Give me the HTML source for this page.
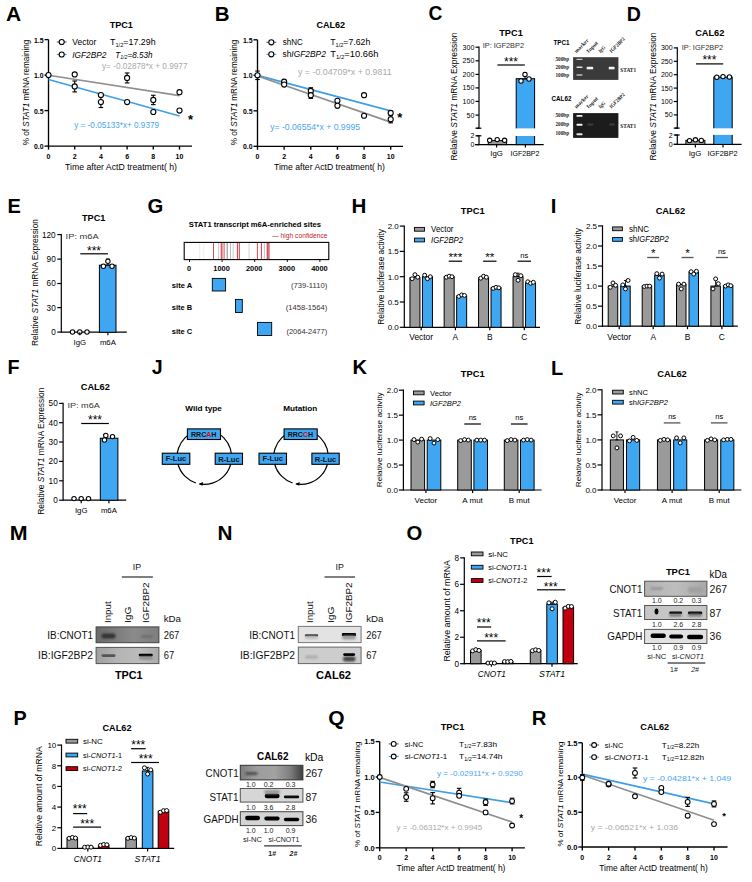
<!DOCTYPE html>
<html><head><meta charset="utf-8"><style>
html,body{margin:0;padding:0;background:#fff;width:752px;height:882px;overflow:hidden}
svg{display:block;font-family:"Liberation Sans",sans-serif}
</style></head><body>
<svg width="752" height="882" viewBox="0 0 752 882" font-family="Liberation Sans, sans-serif"><defs><marker id="ah" viewBox="0 0 10 10" refX="2" refY="5" markerWidth="5" markerHeight="5" orient="auto"><path d="M0,0 L10,5 L0,10 z" fill="#000"/></marker><filter id="bl1" x="-50%" y="-50%" width="200%" height="200%"><feGaussianBlur stdDeviation="0.7"/></filter><filter id="bl2" x="-50%" y="-50%" width="200%" height="200%"><feGaussianBlur stdDeviation="1.2"/></filter><filter id="bl3" x="-50%" y="-50%" width="200%" height="200%"><feGaussianBlur stdDeviation="0.45"/></filter><linearGradient id="g4" x1="0" y1="0" x2="1" y2="0"><stop offset="0" stop-color="#6a6a6a"/><stop offset="0.3" stop-color="#7c7c7c"/><stop offset="0.6" stop-color="#8a8a8a"/><stop offset="1" stop-color="#7e7e7e"/></linearGradient><linearGradient id="g5" x1="0" y1="0" x2="1" y2="0"><stop offset="0" stop-color="#a0a0a0"/><stop offset="0.35" stop-color="#b4b4b4"/><stop offset="0.7" stop-color="#bcbcbc"/><stop offset="1" stop-color="#aaaaaa"/></linearGradient><linearGradient id="g6" x1="0" y1="0" x2="1" y2="0"><stop offset="0" stop-color="#b4b4b4"/><stop offset="0.5" stop-color="#bdbdbd"/><stop offset="1" stop-color="#a8a8a8"/></linearGradient><linearGradient id="g7" x1="0" y1="0" x2="1" y2="0"><stop offset="0" stop-color="#7e7e7e"/><stop offset="0.25" stop-color="#9c9c9c"/><stop offset="0.55" stop-color="#a2a2a2"/><stop offset="0.8" stop-color="#7e7e7e"/><stop offset="1" stop-color="#3e3e3e"/></linearGradient><filter id="glow" x="-50%" y="-50%" width="200%" height="200%"><feGaussianBlur stdDeviation="0.55"/></filter></defs><rect width="752" height="882" fill="#fff"/><text transform="translate(6.07 20.54) scale(1.002 1)" font-size="21" font-weight="bold">A</text>
<text x="121.3" y="27.83" font-size="9.8" text-anchor="middle" font-weight="bold" textLength="23.3" lengthAdjust="spacingAndGlyphs">TPC1</text>
<line x1="48.5" y1="39.6" x2="48.5" y2="146.6" stroke="#000" stroke-width="1.35"/>
<line x1="48" y1="146.1" x2="192" y2="146.1" stroke="#000" stroke-width="1.35"/>
<line x1="44.5" y1="146.1" x2="48.5" y2="146.1" stroke="#000" stroke-width="1.35"/>
<text x="43.6" y="149" font-size="7.5" text-anchor="end" font-weight="bold" textLength="9.6" lengthAdjust="spacingAndGlyphs">0.0</text>
<line x1="44.5" y1="110.6" x2="48.5" y2="110.6" stroke="#000" stroke-width="1.35"/>
<text x="43.6" y="113.5" font-size="7.5" text-anchor="end" font-weight="bold" textLength="9.6" lengthAdjust="spacingAndGlyphs">0.5</text>
<line x1="44.5" y1="75.1" x2="48.5" y2="75.1" stroke="#000" stroke-width="1.35"/>
<text x="43.6" y="78" font-size="7.5" text-anchor="end" font-weight="bold" textLength="9.6" lengthAdjust="spacingAndGlyphs">1.0</text>
<line x1="44.5" y1="39.6" x2="48.5" y2="39.6" stroke="#000" stroke-width="1.35"/>
<text x="43.6" y="42.5" font-size="7.5" text-anchor="end" font-weight="bold" textLength="9.6" lengthAdjust="spacingAndGlyphs">1.5</text>
<line x1="48.5" y1="146.1" x2="48.5" y2="149.6" stroke="#000" stroke-width="1.35"/>
<text x="48.5" y="158.72" font-size="7" text-anchor="middle" font-weight="bold">0</text>
<line x1="74.7" y1="146.1" x2="74.7" y2="149.6" stroke="#000" stroke-width="1.35"/>
<text x="74.7" y="158.72" font-size="7" text-anchor="middle" font-weight="bold">2</text>
<line x1="100.9" y1="146.1" x2="100.9" y2="149.6" stroke="#000" stroke-width="1.35"/>
<text x="100.9" y="158.72" font-size="7" text-anchor="middle" font-weight="bold">4</text>
<line x1="127.1" y1="146.1" x2="127.1" y2="149.6" stroke="#000" stroke-width="1.35"/>
<text x="127.1" y="158.72" font-size="7" text-anchor="middle" font-weight="bold">6</text>
<line x1="153.3" y1="146.1" x2="153.3" y2="149.6" stroke="#000" stroke-width="1.35"/>
<text x="153.3" y="158.72" font-size="7" text-anchor="middle" font-weight="bold">8</text>
<line x1="179.5" y1="146.1" x2="179.5" y2="149.6" stroke="#000" stroke-width="1.35"/>
<text x="179.5" y="158.72" font-size="7" text-anchor="middle" font-weight="bold">10</text>
<line x1="48.5" y1="75.26" x2="179.5" y2="95.7" stroke="#8f8f8f" stroke-width="1.7"/>
<line x1="48.5" y1="79.51" x2="179.5" y2="115.95" stroke="#3f9fe6" stroke-width="1.7"/>
<line x1="74.7" y1="80.99" x2="74.7" y2="91.93" stroke="#000" stroke-width="1.1"/>
<line x1="72.4" y1="80.99" x2="77" y2="80.99" stroke="#000" stroke-width="1.1"/>
<line x1="72.4" y1="91.93" x2="77" y2="91.93" stroke="#000" stroke-width="1.1"/>
<line x1="100.9" y1="96.61" x2="100.9" y2="107.55" stroke="#000" stroke-width="1.1"/>
<line x1="98.6" y1="96.61" x2="103.2" y2="96.61" stroke="#000" stroke-width="1.1"/>
<line x1="98.6" y1="107.55" x2="103.2" y2="107.55" stroke="#000" stroke-width="1.1"/>
<line x1="127.1" y1="72.97" x2="127.1" y2="82.91" stroke="#000" stroke-width="1.1"/>
<line x1="124.8" y1="72.97" x2="129.4" y2="72.97" stroke="#000" stroke-width="1.1"/>
<line x1="124.8" y1="82.91" x2="129.4" y2="82.91" stroke="#000" stroke-width="1.1"/>
<line x1="153.3" y1="95.26" x2="153.3" y2="104.64" stroke="#000" stroke-width="1.1"/>
<line x1="151" y1="95.26" x2="155.6" y2="95.26" stroke="#000" stroke-width="1.1"/>
<line x1="151" y1="104.64" x2="155.6" y2="104.64" stroke="#000" stroke-width="1.1"/>
<circle cx="48.5" cy="75.1" r="2.55" fill="#fff" stroke="#000" stroke-width="1.1"/>
<circle cx="74.7" cy="74.39" r="2.55" fill="#fff" stroke="#000" stroke-width="1.1"/>
<circle cx="74.7" cy="86.46" r="2.55" fill="#fff" stroke="#000" stroke-width="1.1"/>
<circle cx="100.9" cy="94.98" r="2.55" fill="#fff" stroke="#000" stroke-width="1.1"/>
<circle cx="100.9" cy="102.08" r="2.55" fill="#fff" stroke="#000" stroke-width="1.1"/>
<circle cx="127.1" cy="77.94" r="2.55" fill="#fff" stroke="#000" stroke-width="1.1"/>
<circle cx="127.1" cy="102.08" r="2.55" fill="#fff" stroke="#000" stroke-width="1.1"/>
<circle cx="153.3" cy="99.95" r="2.55" fill="#fff" stroke="#000" stroke-width="1.1"/>
<circle cx="153.3" cy="112.02" r="2.55" fill="#fff" stroke="#000" stroke-width="1.1"/>
<circle cx="179.5" cy="92.14" r="2.55" fill="#fff" stroke="#000" stroke-width="1.1"/>
<circle cx="179.5" cy="110.6" r="2.55" fill="#fff" stroke="#000" stroke-width="1.1"/>
<line x1="56.7" y1="42" x2="66.7" y2="42" stroke="#666" stroke-width="1.1"/>
<circle cx="61.7" cy="42" r="2.55" fill="#fff" stroke="#000" stroke-width="1.1"/>
<line x1="56.7" y1="54.5" x2="66.7" y2="54.5" stroke="#3f9fe6" stroke-width="1.1"/>
<circle cx="61.7" cy="54.5" r="2.55" fill="#fff" stroke="#000" stroke-width="1.1"/>
<text x="72.3" y="45.06" font-size="8.5" textLength="24" lengthAdjust="spacingAndGlyphs">Vector</text>
<text x="110" y="45.06" font-size="8.5" textLength="45.6" lengthAdjust="spacingAndGlyphs">T<tspan font-size="5.5" dy="1.5">1/2</tspan><tspan dy="-1.5">=17.29h</tspan></text>
<text x="72.3" y="57.56" font-size="8.5" font-style="italic" textLength="34.1" lengthAdjust="spacingAndGlyphs">IGF2BP2</text>
<text x="115.2" y="57.56" font-size="8.5" font-style="italic" textLength="37.2" lengthAdjust="spacingAndGlyphs">T<tspan font-size="5.5" dy="1.5">1/2</tspan><tspan dy="-1.5">=8.53h</tspan></text>
<text x="102" y="69.45" font-size="8.2" fill="#a9a9a9" textLength="85.5" lengthAdjust="spacingAndGlyphs">y= -0.02878*x + 0.9977</text>
<text x="74.3" y="127.76" font-size="8.5" fill="#4aa6ec" textLength="84.7" lengthAdjust="spacingAndGlyphs">y = -0.05133*x+ 0.9379</text>
<text x="190.5" y="124.18" font-size="13" text-anchor="middle" font-weight="bold">*</text>
<text x="121" y="170.13" font-size="8.7" text-anchor="middle" textLength="112" lengthAdjust="spacingAndGlyphs">Time after ActD treatment( h)</text>
<text x="25.6" y="95.42" font-size="8.4" text-anchor="middle" textLength="105.5" lengthAdjust="spacingAndGlyphs" transform="rotate(-90 25.6 92.4)">% of <tspan font-style="italic">STAT1</tspan> mRNA remaining</text>
<text transform="translate(214.82 20.54) scale(0.976 1)" font-size="21" font-weight="bold">B</text>
<text x="330.8" y="27.93" font-size="9.8" text-anchor="middle" font-weight="bold" textLength="28.7" lengthAdjust="spacingAndGlyphs">CAL62</text>
<line x1="257.5" y1="39.8" x2="257.5" y2="146.8" stroke="#000" stroke-width="1.35"/>
<line x1="257" y1="146.3" x2="403" y2="146.3" stroke="#000" stroke-width="1.35"/>
<line x1="253.5" y1="146.3" x2="257.5" y2="146.3" stroke="#000" stroke-width="1.35"/>
<text x="252.6" y="149.2" font-size="7.5" text-anchor="end" font-weight="bold" textLength="9.6" lengthAdjust="spacingAndGlyphs">0.0</text>
<line x1="253.5" y1="110.8" x2="257.5" y2="110.8" stroke="#000" stroke-width="1.35"/>
<text x="252.6" y="113.7" font-size="7.5" text-anchor="end" font-weight="bold" textLength="9.6" lengthAdjust="spacingAndGlyphs">0.5</text>
<line x1="253.5" y1="75.3" x2="257.5" y2="75.3" stroke="#000" stroke-width="1.35"/>
<text x="252.6" y="78.2" font-size="7.5" text-anchor="end" font-weight="bold" textLength="9.6" lengthAdjust="spacingAndGlyphs">1.0</text>
<line x1="253.5" y1="39.8" x2="257.5" y2="39.8" stroke="#000" stroke-width="1.35"/>
<text x="252.6" y="42.7" font-size="7.5" text-anchor="end" font-weight="bold" textLength="9.6" lengthAdjust="spacingAndGlyphs">1.5</text>
<line x1="257.5" y1="146.3" x2="257.5" y2="149.8" stroke="#000" stroke-width="1.35"/>
<text x="257.5" y="158.72" font-size="7" text-anchor="middle" font-weight="bold">0</text>
<line x1="284.14" y1="146.3" x2="284.14" y2="149.8" stroke="#000" stroke-width="1.35"/>
<text x="284.14" y="158.72" font-size="7" text-anchor="middle" font-weight="bold">2</text>
<line x1="310.78" y1="146.3" x2="310.78" y2="149.8" stroke="#000" stroke-width="1.35"/>
<text x="310.78" y="158.72" font-size="7" text-anchor="middle" font-weight="bold">4</text>
<line x1="337.42" y1="146.3" x2="337.42" y2="149.8" stroke="#000" stroke-width="1.35"/>
<text x="337.42" y="158.72" font-size="7" text-anchor="middle" font-weight="bold">6</text>
<line x1="364.06" y1="146.3" x2="364.06" y2="149.8" stroke="#000" stroke-width="1.35"/>
<text x="364.06" y="158.72" font-size="7" text-anchor="middle" font-weight="bold">8</text>
<line x1="390.7" y1="146.3" x2="390.7" y2="149.8" stroke="#000" stroke-width="1.35"/>
<text x="390.7" y="158.72" font-size="7" text-anchor="middle" font-weight="bold">10</text>
<line x1="257.5" y1="75.34" x2="390.7" y2="110.86" stroke="#3f9fe6" stroke-width="1.7"/>
<line x1="257.5" y1="76.01" x2="390.7" y2="122.16" stroke="#8f8f8f" stroke-width="1.7"/>
<line x1="257.5" y1="71.04" x2="257.5" y2="79.56" stroke="#000" stroke-width="1.1"/>
<line x1="255.2" y1="71.04" x2="259.8" y2="71.04" stroke="#000" stroke-width="1.1"/>
<line x1="255.2" y1="79.56" x2="259.8" y2="79.56" stroke="#000" stroke-width="1.1"/>
<line x1="310.78" y1="87.73" x2="310.78" y2="94.12" stroke="#000" stroke-width="1.1"/>
<line x1="308.48" y1="87.73" x2="313.08" y2="87.73" stroke="#000" stroke-width="1.1"/>
<line x1="308.48" y1="94.12" x2="313.08" y2="94.12" stroke="#000" stroke-width="1.1"/>
<line x1="310.78" y1="91.99" x2="310.78" y2="98.38" stroke="#000" stroke-width="1.1"/>
<line x1="308.48" y1="91.99" x2="313.08" y2="91.99" stroke="#000" stroke-width="1.1"/>
<line x1="308.48" y1="98.38" x2="313.08" y2="98.38" stroke="#000" stroke-width="1.1"/>
<line x1="390.7" y1="115.77" x2="390.7" y2="122.87" stroke="#000" stroke-width="1.1"/>
<line x1="388.4" y1="115.77" x2="393" y2="115.77" stroke="#000" stroke-width="1.1"/>
<line x1="388.4" y1="122.87" x2="393" y2="122.87" stroke="#000" stroke-width="1.1"/>
<circle cx="257.5" cy="75.3" r="2.55" fill="#fff" stroke="#000" stroke-width="1.1"/>
<circle cx="284.14" cy="81.69" r="2.55" fill="#fff" stroke="#000" stroke-width="1.1"/>
<circle cx="284.14" cy="84.53" r="2.55" fill="#fff" stroke="#000" stroke-width="1.1"/>
<circle cx="310.78" cy="90.92" r="2.55" fill="#fff" stroke="#000" stroke-width="1.1"/>
<circle cx="310.78" cy="95.18" r="2.55" fill="#fff" stroke="#000" stroke-width="1.1"/>
<circle cx="337.42" cy="100.86" r="2.55" fill="#fff" stroke="#000" stroke-width="1.1"/>
<circle cx="337.42" cy="105.83" r="2.55" fill="#fff" stroke="#000" stroke-width="1.1"/>
<circle cx="364.06" cy="95.18" r="2.55" fill="#fff" stroke="#000" stroke-width="1.1"/>
<circle cx="364.06" cy="115.77" r="2.55" fill="#fff" stroke="#000" stroke-width="1.1"/>
<circle cx="390.7" cy="112.93" r="2.55" fill="#fff" stroke="#000" stroke-width="1.1"/>
<circle cx="390.7" cy="119.32" r="2.55" fill="#fff" stroke="#000" stroke-width="1.1"/>
<line x1="266.3" y1="42.3" x2="276.3" y2="42.3" stroke="#666" stroke-width="1.1"/>
<circle cx="271.3" cy="42.3" r="2.55" fill="#fff" stroke="#000" stroke-width="1.1"/>
<line x1="266.3" y1="54.3" x2="276.3" y2="54.3" stroke="#3f9fe6" stroke-width="1.1"/>
<circle cx="271.3" cy="54.3" r="2.55" fill="#fff" stroke="#000" stroke-width="1.1"/>
<text x="282.7" y="45.36" font-size="8.5" textLength="20" lengthAdjust="spacingAndGlyphs">shNC</text>
<text x="330.2" y="45.36" font-size="8.5" textLength="40.1" lengthAdjust="spacingAndGlyphs">T<tspan font-size="5.5" dy="1.5">1/2</tspan><tspan dy="-1.5">=7.62h</tspan></text>
<text x="282.5" y="57.36" font-size="8.5" textLength="43.3" lengthAdjust="spacingAndGlyphs">sh<tspan font-style="italic">IGF2BP2</tspan></text>
<text x="330.2" y="57.36" font-size="8.5" textLength="48.3" lengthAdjust="spacingAndGlyphs">T<tspan font-size="5.5" dy="1.5">1/2</tspan><tspan dy="-1.5">=10.66h</tspan></text>
<text x="298" y="74.76" font-size="8.5" fill="#a9a9a9" textLength="93.6" lengthAdjust="spacingAndGlyphs">y = -0.04709*x + 0.9811</text>
<text x="270.2" y="129.86" font-size="8.5" fill="#4aa6ec" textLength="89.9" lengthAdjust="spacingAndGlyphs">y= -0.06554*x + 0.9995</text>
<text x="399.8" y="122.18" font-size="13" text-anchor="middle" font-weight="bold">*</text>
<text x="329.5" y="170.33" font-size="8.7" text-anchor="middle" textLength="111" lengthAdjust="spacingAndGlyphs">Time after ActD treatment( h)</text>
<text x="234.3" y="95.42" font-size="8.4" text-anchor="middle" textLength="105.5" lengthAdjust="spacingAndGlyphs" transform="rotate(-90 234.3 92.4)">% of <tspan font-style="italic">STAT1</tspan> mRNA remaining</text>
<text transform="translate(428.53 20.35) scale(0.916 1)" font-size="21" font-weight="bold">C</text>
<text x="511" y="35.63" font-size="9.8" text-anchor="middle" font-weight="bold" textLength="23.6" lengthAdjust="spacingAndGlyphs">TPC1</text>
<text x="482.7" y="48.13" font-size="7.3" fill="#333" textLength="41.3" lengthAdjust="spacingAndGlyphs">IP: IGF2BP2</text>
<line x1="479" y1="46.6" x2="479" y2="128.8" stroke="#000" stroke-width="1.2"/>
<line x1="475.5" y1="47.2" x2="479" y2="47.2" stroke="#000" stroke-width="1.2"/>
<text x="474.3" y="49.72" font-size="7" text-anchor="end">300</text>
<line x1="475.5" y1="60.8" x2="479" y2="60.8" stroke="#000" stroke-width="1.2"/>
<text x="474.3" y="63.32" font-size="7" text-anchor="end">250</text>
<line x1="475.5" y1="74.4" x2="479" y2="74.4" stroke="#000" stroke-width="1.2"/>
<text x="474.3" y="76.92" font-size="7" text-anchor="end">200</text>
<line x1="475.5" y1="87.9" x2="479" y2="87.9" stroke="#000" stroke-width="1.2"/>
<text x="474.3" y="90.42" font-size="7" text-anchor="end">150</text>
<line x1="475.5" y1="101.4" x2="479" y2="101.4" stroke="#000" stroke-width="1.2"/>
<text x="474.3" y="103.92" font-size="7" text-anchor="end">100</text>
<line x1="475.5" y1="115.1" x2="479" y2="115.1" stroke="#000" stroke-width="1.2"/>
<text x="474.3" y="117.62" font-size="7" text-anchor="end">50</text>
<line x1="475.5" y1="128.2" x2="479" y2="128.2" stroke="#000" stroke-width="1.2"/>
<line x1="479" y1="135.2" x2="479" y2="145.2" stroke="#000" stroke-width="1.2"/>
<line x1="475.5" y1="135.8" x2="479" y2="135.8" stroke="#000" stroke-width="1.2"/>
<text x="474.3" y="138.32" font-size="7" text-anchor="end">2</text>
<line x1="475.5" y1="144.6" x2="479" y2="144.6" stroke="#000" stroke-width="1.2"/>
<text x="474.3" y="147.12" font-size="7" text-anchor="end">0</text>
<line x1="476.6" y1="128.2" x2="481.4" y2="128.2" stroke="#000" stroke-width="1.2"/>
<line x1="476.6" y1="135.8" x2="481.4" y2="135.8" stroke="#000" stroke-width="1.2"/>
<line x1="475" y1="144.6" x2="543.7" y2="144.6" stroke="#000" stroke-width="1.2"/>
<rect x="488.3" y="140.6" width="18.3" height="4" fill="#9a9a9a" stroke="#000" stroke-width="1"/>
<rect x="516.2" y="78.7" width="18.4" height="65.9" fill="#3fa6f2" stroke="#000" stroke-width="1"/>
<rect x="514" y="128.4" width="23" height="7.6" fill="#fff"/>
<circle cx="489.7" cy="140.3" r="2.2" fill="#fff" stroke="#000" stroke-width="1.05"/>
<circle cx="497.2" cy="139.6" r="2.2" fill="#fff" stroke="#000" stroke-width="1.05"/>
<circle cx="504.6" cy="140.3" r="2.2" fill="#fff" stroke="#000" stroke-width="1.05"/>
<line x1="525" y1="72.5" x2="525" y2="79" stroke="#000" stroke-width="1"/>
<line x1="523.25" y1="72.5" x2="526.75" y2="72.5" stroke="#000" stroke-width="1"/>
<line x1="523.25" y1="79" x2="526.75" y2="79" stroke="#000" stroke-width="1"/>
<circle cx="521" cy="81" r="2.2" fill="#fff" stroke="#000" stroke-width="1.05"/>
<circle cx="525" cy="74.4" r="2.2" fill="#fff" stroke="#000" stroke-width="1.05"/>
<circle cx="529" cy="79" r="2.2" fill="#fff" stroke="#000" stroke-width="1.05"/>
<line x1="496.6" y1="144.6" x2="496.6" y2="147.6" stroke="#000" stroke-width="1.2"/>
<line x1="525.4" y1="144.6" x2="525.4" y2="147.6" stroke="#000" stroke-width="1.2"/>
<line x1="497.4" y1="65" x2="524.8" y2="65" stroke="#000" stroke-width="1.2"/>
<text x="511" y="65.61" font-size="12" text-anchor="middle">***</text>
<text x="496.6" y="155.81" font-size="7.8" text-anchor="middle">IgG</text>
<text x="525" y="155.81" font-size="7.8" text-anchor="middle" textLength="29" lengthAdjust="spacingAndGlyphs">IGF2BP2</text>
<text x="454.3" y="99.52" font-size="8.4" text-anchor="middle" textLength="128" lengthAdjust="spacingAndGlyphs" transform="rotate(-90 454.3 96.5)">Relative  <tspan font-style="italic">STAT1</tspan> mRNA Expression</text>
<text transform="translate(626.68 20.54) scale(0.933 1)" font-size="21" font-weight="bold">D</text>
<text x="709.8" y="35.63" font-size="9.8" text-anchor="middle" font-weight="bold" textLength="29.2" lengthAdjust="spacingAndGlyphs">CAL62</text>
<text x="681.8" y="49.63" font-size="7.3" fill="#333" textLength="41.4" lengthAdjust="spacingAndGlyphs">IP: IGF2BP2</text>
<line x1="677.3" y1="47.3" x2="677.3" y2="128.7" stroke="#000" stroke-width="1.2"/>
<line x1="673.8" y1="47.9" x2="677.3" y2="47.9" stroke="#000" stroke-width="1.2"/>
<text x="672.6" y="50.42" font-size="7" text-anchor="end">300</text>
<line x1="673.8" y1="61.3" x2="677.3" y2="61.3" stroke="#000" stroke-width="1.2"/>
<text x="672.6" y="63.82" font-size="7" text-anchor="end">250</text>
<line x1="673.8" y1="74.7" x2="677.3" y2="74.7" stroke="#000" stroke-width="1.2"/>
<text x="672.6" y="77.22" font-size="7" text-anchor="end">200</text>
<line x1="673.8" y1="88.1" x2="677.3" y2="88.1" stroke="#000" stroke-width="1.2"/>
<text x="672.6" y="90.62" font-size="7" text-anchor="end">150</text>
<line x1="673.8" y1="101.5" x2="677.3" y2="101.5" stroke="#000" stroke-width="1.2"/>
<text x="672.6" y="104.02" font-size="7" text-anchor="end">100</text>
<line x1="673.8" y1="114.9" x2="677.3" y2="114.9" stroke="#000" stroke-width="1.2"/>
<text x="672.6" y="117.42" font-size="7" text-anchor="end">50</text>
<line x1="673.8" y1="128.1" x2="677.3" y2="128.1" stroke="#000" stroke-width="1.2"/>
<line x1="677.3" y1="134.4" x2="677.3" y2="145" stroke="#000" stroke-width="1.2"/>
<line x1="673.8" y1="135" x2="677.3" y2="135" stroke="#000" stroke-width="1.2"/>
<text x="672.6" y="137.52" font-size="7" text-anchor="end">2</text>
<line x1="673.8" y1="144.4" x2="677.3" y2="144.4" stroke="#000" stroke-width="1.2"/>
<text x="672.6" y="146.92" font-size="7" text-anchor="end">0</text>
<line x1="674.9" y1="128.1" x2="679.7" y2="128.1" stroke="#000" stroke-width="1.2"/>
<line x1="674.9" y1="135" x2="679.7" y2="135" stroke="#000" stroke-width="1.2"/>
<line x1="673.7" y1="144.4" x2="741.6" y2="144.4" stroke="#000" stroke-width="1.2"/>
<rect x="685.9" y="140.4" width="19" height="4" fill="#9a9a9a" stroke="#000" stroke-width="1"/>
<rect x="713.8" y="77.1" width="18.4" height="67.3" fill="#3fa6f2" stroke="#000" stroke-width="1"/>
<rect x="711.5" y="128.3" width="23" height="6.6" fill="#fff"/>
<circle cx="689.5" cy="140.6" r="2.2" fill="#fff" stroke="#000" stroke-width="1.05"/>
<circle cx="695.4" cy="139.8" r="2.2" fill="#fff" stroke="#000" stroke-width="1.05"/>
<circle cx="701.3" cy="140.4" r="2.2" fill="#fff" stroke="#000" stroke-width="1.05"/>
<circle cx="716.8" cy="77.2" r="2.2" fill="#fff" stroke="#000" stroke-width="1.05"/>
<circle cx="723" cy="76.6" r="2.2" fill="#fff" stroke="#000" stroke-width="1.05"/>
<circle cx="729.4" cy="77" r="2.2" fill="#fff" stroke="#000" stroke-width="1.05"/>
<line x1="695.4" y1="144.4" x2="695.4" y2="147.4" stroke="#000" stroke-width="1.2"/>
<line x1="723" y1="144.4" x2="723" y2="147.4" stroke="#000" stroke-width="1.2"/>
<line x1="696" y1="63.9" x2="723.2" y2="63.9" stroke="#000" stroke-width="1.2"/>
<text x="709.4" y="64.21" font-size="12" text-anchor="middle">***</text>
<text x="695" y="156.01" font-size="7.8" text-anchor="middle">IgG</text>
<text x="722.6" y="156.01" font-size="7.8" text-anchor="middle" textLength="30" lengthAdjust="spacingAndGlyphs">IGF2BP2</text>
<text x="653.3" y="99.52" font-size="8.4" text-anchor="middle" textLength="128" lengthAdjust="spacingAndGlyphs" transform="rotate(-90 653.3 96.5)">Relative  <tspan font-style="italic">STAT1</tspan> mRNA Expression</text>
<text transform="translate(7.55 212.74) scale(0.952 1)" font-size="21" font-weight="bold">E</text>
<text x="93.7" y="221.13" font-size="9.8" text-anchor="middle" font-weight="bold" textLength="23.3" lengthAdjust="spacingAndGlyphs">TPC1</text>
<text x="65.6" y="238.94" font-size="7.6" fill="#333" textLength="33.2" lengthAdjust="spacingAndGlyphs">IP:  m6A</text>
<line x1="61.3" y1="234" x2="61.3" y2="332.7" stroke="#000" stroke-width="1.2"/>
<line x1="57.3" y1="234.6" x2="61.3" y2="234.6" stroke="#000" stroke-width="1.2"/>
<text x="55.7" y="237.55" font-size="8.2" text-anchor="end">120</text>
<line x1="57.3" y1="259.1" x2="61.3" y2="259.1" stroke="#000" stroke-width="1.2"/>
<text x="55.7" y="262.05" font-size="8.2" text-anchor="end">90</text>
<line x1="57.3" y1="283.5" x2="61.3" y2="283.5" stroke="#000" stroke-width="1.2"/>
<text x="55.7" y="286.45" font-size="8.2" text-anchor="end">60</text>
<line x1="57.3" y1="307.6" x2="61.3" y2="307.6" stroke="#000" stroke-width="1.2"/>
<text x="55.7" y="310.55" font-size="8.2" text-anchor="end">30</text>
<line x1="57.3" y1="332.1" x2="61.3" y2="332.1" stroke="#000" stroke-width="1.2"/>
<text x="55.7" y="335.05" font-size="8.2" text-anchor="end">0</text>
<line x1="61.3" y1="332.1" x2="126.8" y2="332.1" stroke="#000" stroke-width="1.2"/>
<rect x="99.4" y="265.2" width="16.6" height="67.1" fill="#3fa6f2" stroke="#000" stroke-width="1"/>
<circle cx="72.5" cy="332" r="2.2" fill="#fff" stroke="#000" stroke-width="1.05"/>
<circle cx="79.8" cy="332" r="2.2" fill="#fff" stroke="#000" stroke-width="1.05"/>
<circle cx="87" cy="332" r="2.2" fill="#fff" stroke="#000" stroke-width="1.05"/>
<line x1="107.9" y1="259" x2="107.9" y2="265" stroke="#000" stroke-width="1"/>
<line x1="106.15" y1="259" x2="109.65" y2="259" stroke="#000" stroke-width="1"/>
<line x1="106.15" y1="265" x2="109.65" y2="265" stroke="#000" stroke-width="1"/>
<circle cx="103.4" cy="266.2" r="2.2" fill="#fff" stroke="#000" stroke-width="1.05"/>
<circle cx="107.9" cy="261.3" r="2.2" fill="#fff" stroke="#000" stroke-width="1.05"/>
<circle cx="112" cy="266.2" r="2.2" fill="#fff" stroke="#000" stroke-width="1.05"/>
<line x1="79.8" y1="332.3" x2="79.8" y2="335.3" stroke="#000" stroke-width="1.2"/>
<line x1="107.9" y1="332.3" x2="107.9" y2="335.3" stroke="#000" stroke-width="1.2"/>
<line x1="80.3" y1="253.8" x2="107.9" y2="253.8" stroke="#000" stroke-width="1.2"/>
<text x="94" y="255.21" font-size="12" text-anchor="middle">***</text>
<text x="79.8" y="344.81" font-size="7.8" text-anchor="middle">IgG</text>
<text x="107.9" y="344.81" font-size="7.8" text-anchor="middle">m6A</text>
<text x="34.5" y="285.52" font-size="8.4" text-anchor="middle" textLength="127" lengthAdjust="spacingAndGlyphs" transform="rotate(-90 34.5 282.5)">Relative  <tspan font-style="italic">STAT1</tspan> mRNA Expression</text>
<text transform="translate(7.57 374.34) scale(0.938 1)" font-size="21" font-weight="bold">F</text>
<text x="95.3" y="390.13" font-size="9.8" text-anchor="middle" font-weight="bold" textLength="29.1" lengthAdjust="spacingAndGlyphs">CAL62</text>
<text x="67.4" y="407.74" font-size="7.6" fill="#333" textLength="32.5" lengthAdjust="spacingAndGlyphs">IP:  m6A</text>
<line x1="63.1" y1="402.8" x2="63.1" y2="500.8" stroke="#000" stroke-width="1.2"/>
<line x1="59.1" y1="403.4" x2="63.1" y2="403.4" stroke="#000" stroke-width="1.2"/>
<text x="57.7" y="406.35" font-size="8.2" text-anchor="end">50</text>
<line x1="59.1" y1="422.7" x2="63.1" y2="422.7" stroke="#000" stroke-width="1.2"/>
<text x="57.7" y="425.65" font-size="8.2" text-anchor="end">40</text>
<line x1="59.1" y1="442" x2="63.1" y2="442" stroke="#000" stroke-width="1.2"/>
<text x="57.7" y="444.95" font-size="8.2" text-anchor="end">30</text>
<line x1="59.1" y1="461.4" x2="63.1" y2="461.4" stroke="#000" stroke-width="1.2"/>
<text x="57.7" y="464.35" font-size="8.2" text-anchor="end">20</text>
<line x1="59.1" y1="480.8" x2="63.1" y2="480.8" stroke="#000" stroke-width="1.2"/>
<text x="57.7" y="483.75" font-size="8.2" text-anchor="end">10</text>
<line x1="59.1" y1="500.2" x2="63.1" y2="500.2" stroke="#000" stroke-width="1.2"/>
<text x="57.7" y="503.15" font-size="8.2" text-anchor="end">0</text>
<line x1="63.1" y1="500.2" x2="126.2" y2="500.2" stroke="#000" stroke-width="1.2"/>
<rect x="100.3" y="438.2" width="17.6" height="62" fill="#3fa6f2" stroke="#000" stroke-width="1"/>
<circle cx="74" cy="498.6" r="2.2" fill="#fff" stroke="#000" stroke-width="1.05"/>
<circle cx="81.2" cy="498.6" r="2.2" fill="#fff" stroke="#000" stroke-width="1.05"/>
<circle cx="88.5" cy="498.6" r="2.2" fill="#fff" stroke="#000" stroke-width="1.05"/>
<line x1="105" y1="434.5" x2="105" y2="440" stroke="#000" stroke-width="1"/>
<line x1="103.25" y1="434.5" x2="106.75" y2="434.5" stroke="#000" stroke-width="1"/>
<line x1="103.25" y1="440" x2="106.75" y2="440" stroke="#000" stroke-width="1"/>
<circle cx="104.5" cy="440" r="2.2" fill="#fff" stroke="#000" stroke-width="1.05"/>
<circle cx="105.8" cy="435.5" r="2.2" fill="#fff" stroke="#000" stroke-width="1.05"/>
<circle cx="112.5" cy="436.6" r="2.2" fill="#fff" stroke="#000" stroke-width="1.05"/>
<line x1="81.2" y1="500.2" x2="81.2" y2="503.2" stroke="#000" stroke-width="1.2"/>
<line x1="108.9" y1="500.2" x2="108.9" y2="503.2" stroke="#000" stroke-width="1.2"/>
<line x1="81.2" y1="423.5" x2="108.9" y2="423.5" stroke="#000" stroke-width="1.2"/>
<text x="95" y="424.01" font-size="12" text-anchor="middle">***</text>
<text x="81.2" y="512.81" font-size="7.8" text-anchor="middle">IgG</text>
<text x="108.9" y="512.81" font-size="7.8" text-anchor="middle">m6A</text>
<text x="41.5" y="454.15" font-size="8.2" text-anchor="middle" textLength="127" lengthAdjust="spacingAndGlyphs" transform="rotate(-90 41.5 451.2)">Relative  <tspan font-style="italic">STAT1</tspan> mRNA Expression</text>
<text transform="translate(147.39 212.75) scale(0.966 1)" font-size="21" font-weight="bold">G</text>
<text x="188.7" y="227.01" font-size="7.8" font-weight="bold" textLength="132.2" lengthAdjust="spacingAndGlyphs">STAT1 transcript m6A-enriched sites</text>
<text x="272" y="237.63" font-size="7.3" fill="#c0272d" textLength="55.5" lengthAdjust="spacingAndGlyphs">— high confidence</text>
<rect x="184.2" y="242.4" width="144.6" height="17.2" fill="#fff" stroke="#000" stroke-width="1.1"/>
<line x1="199.7" y1="243" x2="199.7" y2="259" stroke="#e6e6e6" stroke-width="0.8"/>
<line x1="203.7" y1="243" x2="203.7" y2="259" stroke="#ececec" stroke-width="0.8"/>
<line x1="218.6" y1="243" x2="218.6" y2="259" stroke="#bdbdbd" stroke-width="0.8"/>
<line x1="227.2" y1="243" x2="227.2" y2="259" stroke="#808080" stroke-width="0.9"/>
<line x1="230.5" y1="243" x2="230.5" y2="259" stroke="#aaaaaa" stroke-width="0.8"/>
<line x1="233.2" y1="243" x2="233.2" y2="259" stroke="#bbbbbb" stroke-width="0.8"/>
<line x1="249.1" y1="243" x2="249.1" y2="259" stroke="#cccccc" stroke-width="0.9"/>
<line x1="264.4" y1="243" x2="264.4" y2="259" stroke="#b5b5b5" stroke-width="0.8"/>
<line x1="213.5" y1="243" x2="213.5" y2="259" stroke="#c8202a" stroke-width="0.8"/>
<line x1="221.2" y1="243" x2="221.2" y2="259" stroke="#c8202a" stroke-width="0.8"/>
<line x1="222" y1="243" x2="222" y2="259" stroke="#c8202a" stroke-width="0.8"/>
<line x1="224.1" y1="243" x2="224.1" y2="259" stroke="#c8202a" stroke-width="0.8"/>
<line x1="237.4" y1="243" x2="237.4" y2="259" stroke="#c8202a" stroke-width="0.9"/>
<line x1="239.3" y1="243" x2="239.3" y2="259" stroke="#c8202a" stroke-width="0.9"/>
<line x1="257.4" y1="243" x2="257.4" y2="259" stroke="#c8202a" stroke-width="0.8"/>
<line x1="261.4" y1="243" x2="261.4" y2="259" stroke="#c8202a" stroke-width="0.9"/>
<line x1="267.2" y1="243" x2="267.2" y2="259" stroke="#c8202a" stroke-width="0.9"/>
<line x1="268" y1="243" x2="268" y2="259" stroke="#c8202a" stroke-width="0.9"/>
<line x1="269.1" y1="243" x2="269.1" y2="259" stroke="#c8202a" stroke-width="0.8"/>
<line x1="189.5" y1="259.6" x2="189.5" y2="262" stroke="#000" stroke-width="0.9"/>
<text x="189" y="270.76" font-size="7.4" text-anchor="middle" font-weight="bold">0</text>
<line x1="222.1" y1="259.6" x2="222.1" y2="262" stroke="#000" stroke-width="0.9"/>
<text x="221.6" y="270.76" font-size="7.4" text-anchor="middle" font-weight="bold">1000</text>
<line x1="254.7" y1="259.6" x2="254.7" y2="262" stroke="#000" stroke-width="0.9"/>
<text x="254.2" y="270.76" font-size="7.4" text-anchor="middle" font-weight="bold">2000</text>
<line x1="287.3" y1="259.6" x2="287.3" y2="262" stroke="#000" stroke-width="0.9"/>
<text x="286.8" y="270.76" font-size="7.4" text-anchor="middle" font-weight="bold">3000</text>
<line x1="319.9" y1="259.6" x2="319.9" y2="262" stroke="#000" stroke-width="0.9"/>
<text x="319.4" y="270.76" font-size="7.4" text-anchor="middle" font-weight="bold">4000</text>
<text x="171.8" y="288.14" font-size="7.6" font-weight="bold" textLength="20.4" lengthAdjust="spacingAndGlyphs">site A</text>
<rect x="212.3" y="278.4" width="13.3" height="12.6" fill="#3fa6f2" stroke="#000" stroke-width="0.9"/>
<text x="327.2" y="288.14" font-size="7.6" text-anchor="end" fill="#333" textLength="36.2" lengthAdjust="spacingAndGlyphs">(739-1110)</text>
<text x="171.8" y="310.04" font-size="7.6" font-weight="bold" textLength="20.4" lengthAdjust="spacingAndGlyphs">site B</text>
<rect x="235.5" y="299.4" width="6.8" height="13.1" fill="#3fa6f2" stroke="#000" stroke-width="0.9"/>
<text x="327.2" y="310.04" font-size="7.6" text-anchor="end" fill="#333" textLength="41.5" lengthAdjust="spacingAndGlyphs">(1458-1564)</text>
<text x="171.8" y="333.74" font-size="7.6" font-weight="bold" textLength="20.4" lengthAdjust="spacingAndGlyphs">site C</text>
<rect x="257.5" y="322.4" width="14.2" height="13.1" fill="#3fa6f2" stroke="#000" stroke-width="0.9"/>
<text x="327.2" y="333.74" font-size="7.6" text-anchor="end" fill="#333" textLength="40.8" lengthAdjust="spacingAndGlyphs">(2064-2477)</text>
<text transform="translate(351.61 212.94) scale(0.981 1)" font-size="21" font-weight="bold">H</text>
<text x="472.7" y="213.73" font-size="9.8" text-anchor="middle" font-weight="bold" textLength="23.8" lengthAdjust="spacingAndGlyphs">TPC1</text>
<line x1="404.3" y1="225.5" x2="404.3" y2="327.9" stroke="#000" stroke-width="1.2"/>
<line x1="399.8" y1="327.3" x2="404.3" y2="327.3" stroke="#000" stroke-width="1.2"/>
<text x="398.8" y="330.18" font-size="8" text-anchor="end">0.0</text>
<line x1="399.8" y1="302" x2="404.3" y2="302" stroke="#000" stroke-width="1.2"/>
<text x="398.8" y="304.88" font-size="8" text-anchor="end">0.5</text>
<line x1="399.8" y1="276.7" x2="404.3" y2="276.7" stroke="#000" stroke-width="1.2"/>
<text x="398.8" y="279.58" font-size="8" text-anchor="end">1.0</text>
<line x1="399.8" y1="251.4" x2="404.3" y2="251.4" stroke="#000" stroke-width="1.2"/>
<text x="398.8" y="254.28" font-size="8" text-anchor="end">1.5</text>
<line x1="399.8" y1="226.1" x2="404.3" y2="226.1" stroke="#000" stroke-width="1.2"/>
<text x="398.8" y="228.98" font-size="8" text-anchor="end">2.0</text>
<line x1="403.7" y1="327.3" x2="540" y2="327.3" stroke="#000" stroke-width="1.2"/>
<line x1="421.2" y1="327.3" x2="421.2" y2="330.3" stroke="#000" stroke-width="1.2"/>
<rect x="409.95" y="277.71" width="10" height="49.59" fill="#9a9a9a" stroke="#000" stroke-width="1"/>
<circle cx="412.15" cy="278.72" r="1.95" fill="#fff" stroke="#000" stroke-width="1"/>
<circle cx="414.95" cy="274.68" r="1.95" fill="#fff" stroke="#000" stroke-width="1"/>
<circle cx="417.75" cy="277.21" r="1.95" fill="#fff" stroke="#000" stroke-width="1"/>
<rect x="422.45" y="276.7" width="10" height="50.6" fill="#3fa6f2" stroke="#000" stroke-width="1"/>
<circle cx="424.65" cy="275.18" r="1.95" fill="#fff" stroke="#000" stroke-width="1"/>
<circle cx="427.45" cy="278.72" r="1.95" fill="#fff" stroke="#000" stroke-width="1"/>
<circle cx="430.25" cy="276.7" r="1.95" fill="#fff" stroke="#000" stroke-width="1"/>
<text x="421.2" y="340.42" font-size="8.4" text-anchor="middle">Vector</text>
<line x1="455.4" y1="327.3" x2="455.4" y2="330.3" stroke="#000" stroke-width="1.2"/>
<rect x="444.15" y="276.7" width="10" height="50.6" fill="#9a9a9a" stroke="#000" stroke-width="1"/>
<circle cx="446.35" cy="277.21" r="1.95" fill="#fff" stroke="#000" stroke-width="1"/>
<circle cx="449.15" cy="276.19" r="1.95" fill="#fff" stroke="#000" stroke-width="1"/>
<circle cx="451.95" cy="276.7" r="1.95" fill="#fff" stroke="#000" stroke-width="1"/>
<rect x="456.65" y="295.93" width="10" height="31.37" fill="#3fa6f2" stroke="#000" stroke-width="1"/>
<circle cx="458.85" cy="296.43" r="1.95" fill="#fff" stroke="#000" stroke-width="1"/>
<circle cx="461.65" cy="294.92" r="1.95" fill="#fff" stroke="#000" stroke-width="1"/>
<circle cx="464.45" cy="295.42" r="1.95" fill="#fff" stroke="#000" stroke-width="1"/>
<text x="455.4" y="340.42" font-size="8.4" text-anchor="middle">A</text>
<line x1="489.8" y1="327.3" x2="489.8" y2="330.3" stroke="#000" stroke-width="1.2"/>
<rect x="478.55" y="277.71" width="10" height="49.59" fill="#9a9a9a" stroke="#000" stroke-width="1"/>
<circle cx="480.75" cy="278.22" r="1.95" fill="#fff" stroke="#000" stroke-width="1"/>
<circle cx="483.55" cy="276.19" r="1.95" fill="#fff" stroke="#000" stroke-width="1"/>
<circle cx="486.35" cy="277.21" r="1.95" fill="#fff" stroke="#000" stroke-width="1"/>
<rect x="491.05" y="287.83" width="10" height="39.47" fill="#3fa6f2" stroke="#000" stroke-width="1"/>
<circle cx="493.25" cy="288.34" r="1.95" fill="#fff" stroke="#000" stroke-width="1"/>
<circle cx="496.05" cy="287.33" r="1.95" fill="#fff" stroke="#000" stroke-width="1"/>
<circle cx="498.85" cy="287.83" r="1.95" fill="#fff" stroke="#000" stroke-width="1"/>
<text x="489.8" y="340.42" font-size="8.4" text-anchor="middle">B</text>
<line x1="524.3" y1="327.3" x2="524.3" y2="330.3" stroke="#000" stroke-width="1.2"/>
<rect x="513.05" y="276.7" width="10" height="50.6" fill="#9a9a9a" stroke="#000" stroke-width="1"/>
<line x1="518.05" y1="273.16" x2="518.05" y2="276.7" stroke="#000" stroke-width="0.9"/>
<line x1="516.55" y1="273.16" x2="519.55" y2="273.16" stroke="#000" stroke-width="0.9"/>
<line x1="516.55" y1="276.7" x2="519.55" y2="276.7" stroke="#000" stroke-width="0.9"/>
<circle cx="515.25" cy="274.68" r="1.95" fill="#fff" stroke="#000" stroke-width="1"/>
<circle cx="518.05" cy="280.24" r="1.95" fill="#fff" stroke="#000" stroke-width="1"/>
<circle cx="520.85" cy="275.69" r="1.95" fill="#fff" stroke="#000" stroke-width="1"/>
<rect x="525.55" y="282.77" width="10" height="44.53" fill="#3fa6f2" stroke="#000" stroke-width="1"/>
<circle cx="527.75" cy="281.76" r="1.95" fill="#fff" stroke="#000" stroke-width="1"/>
<circle cx="530.55" cy="283.28" r="1.95" fill="#fff" stroke="#000" stroke-width="1"/>
<circle cx="533.35" cy="282.27" r="1.95" fill="#fff" stroke="#000" stroke-width="1"/>
<text x="524.3" y="340.42" font-size="8.4" text-anchor="middle">C</text>
<rect x="414.5" y="227.4" width="10" height="3.8" fill="#9a9a9a" stroke="#000" stroke-width="0.9"/>
<rect x="414.5" y="238.1" width="10" height="3.8" fill="#3fa6f2" stroke="#000" stroke-width="0.9"/>
<text x="431.1" y="232.15" font-size="8.2" textLength="22.3" lengthAdjust="spacingAndGlyphs">Vector</text>
<text x="431.1" y="243.25" font-size="8.2" font-style="italic" textLength="32" lengthAdjust="spacingAndGlyphs">IGF2BP2</text>
<line x1="448.7" y1="261.2" x2="462.1" y2="261.2" stroke="#000" stroke-width="1.2"/>
<text x="455.4" y="261.35" font-size="11.7" text-anchor="middle">***</text>
<line x1="483.1" y1="261.2" x2="496.5" y2="261.2" stroke="#000" stroke-width="1.2"/>
<text x="489.8" y="261.35" font-size="11.7" text-anchor="middle">**</text>
<line x1="517.6" y1="261.2" x2="531" y2="261.2" stroke="#000" stroke-width="1.2"/>
<text x="524.3" y="257.7" font-size="7.5" text-anchor="middle">ns</text>
<text x="380.7" y="279.82" font-size="8.4" text-anchor="middle" textLength="95.7" lengthAdjust="spacingAndGlyphs" transform="rotate(-90 380.7 276.8)">Relative luciferase activity</text>
<text transform="translate(550.73 213.04) scale(0.969 1)" font-size="21" font-weight="bold">I</text>
<text x="670.4" y="213.73" font-size="9.8" text-anchor="middle" font-weight="bold" textLength="29.5" lengthAdjust="spacingAndGlyphs">CAL62</text>
<line x1="602.5" y1="225.35" x2="602.5" y2="326.8" stroke="#000" stroke-width="1.2"/>
<line x1="598" y1="326.2" x2="602.5" y2="326.2" stroke="#000" stroke-width="1.2"/>
<text x="597" y="329.08" font-size="8" text-anchor="end">0.0</text>
<line x1="598" y1="306.15" x2="602.5" y2="306.15" stroke="#000" stroke-width="1.2"/>
<text x="597" y="309.03" font-size="8" text-anchor="end">0.5</text>
<line x1="598" y1="286.1" x2="602.5" y2="286.1" stroke="#000" stroke-width="1.2"/>
<text x="597" y="288.98" font-size="8" text-anchor="end">1.0</text>
<line x1="598" y1="266.05" x2="602.5" y2="266.05" stroke="#000" stroke-width="1.2"/>
<text x="597" y="268.93" font-size="8" text-anchor="end">1.5</text>
<line x1="598" y1="246" x2="602.5" y2="246" stroke="#000" stroke-width="1.2"/>
<text x="597" y="248.88" font-size="8" text-anchor="end">2.0</text>
<line x1="598" y1="225.95" x2="602.5" y2="225.95" stroke="#000" stroke-width="1.2"/>
<text x="597" y="228.83" font-size="8" text-anchor="end">2.5</text>
<line x1="601.9" y1="326.2" x2="737.8" y2="326.2" stroke="#000" stroke-width="1.2"/>
<line x1="619.2" y1="326.2" x2="619.2" y2="329.2" stroke="#000" stroke-width="1.2"/>
<rect x="608.2" y="286.1" width="9.5" height="40.1" fill="#9a9a9a" stroke="#000" stroke-width="1"/>
<circle cx="610.29" cy="287.3" r="1.95" fill="#fff" stroke="#000" stroke-width="1"/>
<circle cx="612.95" cy="282.89" r="1.95" fill="#fff" stroke="#000" stroke-width="1"/>
<circle cx="615.61" cy="285.3" r="1.95" fill="#fff" stroke="#000" stroke-width="1"/>
<rect x="620.7" y="286.1" width="9.5" height="40.1" fill="#3fa6f2" stroke="#000" stroke-width="1"/>
<line x1="625.45" y1="280.49" x2="625.45" y2="286.1" stroke="#000" stroke-width="0.9"/>
<line x1="623.95" y1="280.49" x2="626.95" y2="280.49" stroke="#000" stroke-width="0.9"/>
<line x1="623.95" y1="286.1" x2="626.95" y2="286.1" stroke="#000" stroke-width="0.9"/>
<circle cx="622.79" cy="284.9" r="1.95" fill="#fff" stroke="#000" stroke-width="1"/>
<circle cx="625.45" cy="288.91" r="1.95" fill="#fff" stroke="#000" stroke-width="1"/>
<circle cx="628.11" cy="280.49" r="1.95" fill="#fff" stroke="#000" stroke-width="1"/>
<text x="619.2" y="339.52" font-size="8.4" text-anchor="middle">Vector</text>
<line x1="653.2" y1="326.2" x2="653.2" y2="329.2" stroke="#000" stroke-width="1.2"/>
<rect x="642.2" y="286.1" width="9.5" height="40.1" fill="#9a9a9a" stroke="#000" stroke-width="1"/>
<circle cx="644.29" cy="286.5" r="1.95" fill="#fff" stroke="#000" stroke-width="1"/>
<circle cx="646.95" cy="286.1" r="1.95" fill="#fff" stroke="#000" stroke-width="1"/>
<circle cx="649.61" cy="286.1" r="1.95" fill="#fff" stroke="#000" stroke-width="1"/>
<rect x="654.7" y="275.27" width="9.5" height="50.93" fill="#3fa6f2" stroke="#000" stroke-width="1"/>
<circle cx="656.79" cy="273.67" r="1.95" fill="#fff" stroke="#000" stroke-width="1"/>
<circle cx="659.45" cy="278.08" r="1.95" fill="#fff" stroke="#000" stroke-width="1"/>
<circle cx="662.11" cy="274.07" r="1.95" fill="#fff" stroke="#000" stroke-width="1"/>
<text x="653.2" y="339.52" font-size="8.4" text-anchor="middle">A</text>
<line x1="687.5" y1="326.2" x2="687.5" y2="329.2" stroke="#000" stroke-width="1.2"/>
<rect x="676.5" y="284.5" width="9.5" height="41.7" fill="#9a9a9a" stroke="#000" stroke-width="1"/>
<circle cx="678.59" cy="284.09" r="1.95" fill="#fff" stroke="#000" stroke-width="1"/>
<circle cx="681.25" cy="288.91" r="1.95" fill="#fff" stroke="#000" stroke-width="1"/>
<circle cx="683.91" cy="284.09" r="1.95" fill="#fff" stroke="#000" stroke-width="1"/>
<rect x="689" y="272.06" width="9.5" height="54.13" fill="#3fa6f2" stroke="#000" stroke-width="1"/>
<circle cx="691.09" cy="271.66" r="1.95" fill="#fff" stroke="#000" stroke-width="1"/>
<circle cx="693.75" cy="274.07" r="1.95" fill="#fff" stroke="#000" stroke-width="1"/>
<circle cx="696.41" cy="271.26" r="1.95" fill="#fff" stroke="#000" stroke-width="1"/>
<text x="687.5" y="339.52" font-size="8.4" text-anchor="middle">B</text>
<line x1="721.9" y1="326.2" x2="721.9" y2="329.2" stroke="#000" stroke-width="1.2"/>
<rect x="710.9" y="286.1" width="9.5" height="40.1" fill="#9a9a9a" stroke="#000" stroke-width="1"/>
<line x1="715.65" y1="278.88" x2="715.65" y2="286.1" stroke="#000" stroke-width="0.9"/>
<line x1="714.15" y1="278.88" x2="717.15" y2="278.88" stroke="#000" stroke-width="0.9"/>
<line x1="714.15" y1="286.1" x2="717.15" y2="286.1" stroke="#000" stroke-width="0.9"/>
<circle cx="712.99" cy="288.91" r="1.95" fill="#fff" stroke="#000" stroke-width="1"/>
<circle cx="715.65" cy="278.88" r="1.95" fill="#fff" stroke="#000" stroke-width="1"/>
<circle cx="718.31" cy="283.69" r="1.95" fill="#fff" stroke="#000" stroke-width="1"/>
<rect x="723.4" y="285.7" width="9.5" height="40.5" fill="#3fa6f2" stroke="#000" stroke-width="1"/>
<circle cx="725.49" cy="286.1" r="1.95" fill="#fff" stroke="#000" stroke-width="1"/>
<circle cx="728.15" cy="284.9" r="1.95" fill="#fff" stroke="#000" stroke-width="1"/>
<circle cx="730.81" cy="285.7" r="1.95" fill="#fff" stroke="#000" stroke-width="1"/>
<text x="721.9" y="339.52" font-size="8.4" text-anchor="middle">C</text>
<rect x="612.6" y="226.9" width="9.8" height="3.8" fill="#9a9a9a" stroke="#000" stroke-width="0.9"/>
<rect x="612.6" y="237.5" width="9.8" height="3.8" fill="#3fa6f2" stroke="#000" stroke-width="0.9"/>
<text x="629" y="231.75" font-size="8.2" textLength="20" lengthAdjust="spacingAndGlyphs">shNC</text>
<text x="629" y="242.35" font-size="8.2" textLength="39.7" lengthAdjust="spacingAndGlyphs">sh<tspan font-style="italic">IGF2BP2</tspan></text>
<line x1="647.2" y1="257.5" x2="659.2" y2="257.5" stroke="#555" stroke-width="1.3"/>
<text x="653.2" y="257.05" font-size="11.7" text-anchor="middle">*</text>
<line x1="681.5" y1="257.5" x2="693.5" y2="257.5" stroke="#555" stroke-width="1.3"/>
<text x="687.5" y="257.05" font-size="11.7" text-anchor="middle">*</text>
<line x1="715.9" y1="257.5" x2="727.9" y2="257.5" stroke="#555" stroke-width="1.3"/>
<text x="721.9" y="253.7" font-size="7.5" text-anchor="middle">ns</text>
<text x="578.2" y="279.42" font-size="8.4" text-anchor="middle" textLength="96.7" lengthAdjust="spacingAndGlyphs" transform="rotate(-90 578.2 276.4)">Relative luciferase activity</text>
<text transform="translate(352.54 374.34) scale(0.960 1)" font-size="21" font-weight="bold">K</text>
<text x="472.7" y="376.73" font-size="9.8" text-anchor="middle" font-weight="bold" textLength="23.8" lengthAdjust="spacingAndGlyphs">TPC1</text>
<line x1="403.4" y1="389.6" x2="403.4" y2="490.6" stroke="#000" stroke-width="1.2"/>
<line x1="398.9" y1="490" x2="403.4" y2="490" stroke="#000" stroke-width="1.2"/>
<text x="397.9" y="492.88" font-size="8" text-anchor="end">0.0</text>
<line x1="398.9" y1="465.05" x2="403.4" y2="465.05" stroke="#000" stroke-width="1.2"/>
<text x="397.9" y="467.93" font-size="8" text-anchor="end">0.5</text>
<line x1="398.9" y1="440.1" x2="403.4" y2="440.1" stroke="#000" stroke-width="1.2"/>
<text x="397.9" y="442.98" font-size="8" text-anchor="end">1.0</text>
<line x1="398.9" y1="415.15" x2="403.4" y2="415.15" stroke="#000" stroke-width="1.2"/>
<text x="397.9" y="418.03" font-size="8" text-anchor="end">1.5</text>
<line x1="398.9" y1="390.2" x2="403.4" y2="390.2" stroke="#000" stroke-width="1.2"/>
<text x="397.9" y="393.08" font-size="8" text-anchor="end">2.0</text>
<line x1="402.8" y1="490" x2="541.6" y2="490" stroke="#000" stroke-width="1.2"/>
<line x1="425.9" y1="490" x2="425.9" y2="493" stroke="#000" stroke-width="1.2"/>
<rect x="411" y="440.1" width="13.6" height="49.9" fill="#9a9a9a" stroke="#000" stroke-width="1"/>
<circle cx="413.99" cy="439.6" r="1.95" fill="#fff" stroke="#000" stroke-width="1"/>
<circle cx="417.8" cy="442.1" r="1.95" fill="#fff" stroke="#000" stroke-width="1"/>
<circle cx="421.61" cy="439.1" r="1.95" fill="#fff" stroke="#000" stroke-width="1"/>
<rect x="427.2" y="440.1" width="13.6" height="49.9" fill="#3fa6f2" stroke="#000" stroke-width="1"/>
<circle cx="430.19" cy="438.6" r="1.95" fill="#fff" stroke="#000" stroke-width="1"/>
<circle cx="434" cy="443.09" r="1.95" fill="#fff" stroke="#000" stroke-width="1"/>
<circle cx="437.81" cy="439.6" r="1.95" fill="#fff" stroke="#000" stroke-width="1"/>
<text x="425.9" y="503.48" font-size="8" text-anchor="middle">Vector</text>
<line x1="472.6" y1="490" x2="472.6" y2="493" stroke="#000" stroke-width="1.2"/>
<rect x="457.7" y="440.1" width="13.6" height="49.9" fill="#9a9a9a" stroke="#000" stroke-width="1"/>
<circle cx="460.69" cy="440.6" r="1.95" fill="#fff" stroke="#000" stroke-width="1"/>
<circle cx="464.5" cy="439.6" r="1.95" fill="#fff" stroke="#000" stroke-width="1"/>
<circle cx="468.31" cy="440.1" r="1.95" fill="#fff" stroke="#000" stroke-width="1"/>
<rect x="473.9" y="440.1" width="13.6" height="49.9" fill="#3fa6f2" stroke="#000" stroke-width="1"/>
<circle cx="476.89" cy="440.1" r="1.95" fill="#fff" stroke="#000" stroke-width="1"/>
<circle cx="480.7" cy="440.1" r="1.95" fill="#fff" stroke="#000" stroke-width="1"/>
<circle cx="484.51" cy="440.1" r="1.95" fill="#fff" stroke="#000" stroke-width="1"/>
<text x="472.6" y="503.48" font-size="8" text-anchor="middle">A mut</text>
<line x1="519.2" y1="490" x2="519.2" y2="493" stroke="#000" stroke-width="1.2"/>
<rect x="504.3" y="440.1" width="13.6" height="49.9" fill="#9a9a9a" stroke="#000" stroke-width="1"/>
<circle cx="507.29" cy="440.6" r="1.95" fill="#fff" stroke="#000" stroke-width="1"/>
<circle cx="511.1" cy="439.6" r="1.95" fill="#fff" stroke="#000" stroke-width="1"/>
<circle cx="514.91" cy="440.1" r="1.95" fill="#fff" stroke="#000" stroke-width="1"/>
<rect x="520.5" y="440.1" width="13.6" height="49.9" fill="#3fa6f2" stroke="#000" stroke-width="1"/>
<circle cx="523.49" cy="440.1" r="1.95" fill="#fff" stroke="#000" stroke-width="1"/>
<circle cx="527.3" cy="439.6" r="1.95" fill="#fff" stroke="#000" stroke-width="1"/>
<circle cx="531.11" cy="440.1" r="1.95" fill="#fff" stroke="#000" stroke-width="1"/>
<text x="519.2" y="503.48" font-size="8" text-anchor="middle">B mut</text>
<rect x="413.5" y="391" width="10.6" height="3.8" fill="#9a9a9a" stroke="#000" stroke-width="0.9"/>
<rect x="413.5" y="401.1" width="10.6" height="3.8" fill="#3fa6f2" stroke="#000" stroke-width="0.9"/>
<text x="430" y="395.56" font-size="7.4" textLength="21.6" lengthAdjust="spacingAndGlyphs">Vector</text>
<text x="430" y="405.66" font-size="7.4" font-style="italic" textLength="31" lengthAdjust="spacingAndGlyphs">IGF2BP2</text>
<line x1="464.3" y1="424" x2="480.9" y2="424" stroke="#000" stroke-width="1.2"/>
<text x="472.6" y="419.5" font-size="7.5" text-anchor="middle">ns</text>
<line x1="511" y1="424" x2="527.6" y2="424" stroke="#000" stroke-width="1.2"/>
<text x="519.3" y="419.5" font-size="7.5" text-anchor="middle">ns</text>
<text x="379.6" y="442.61" font-size="7.8" text-anchor="middle" textLength="95" lengthAdjust="spacingAndGlyphs" transform="rotate(-90 379.6 439.8)">Relative luciferase activity</text>
<text transform="translate(550.94 374.64) scale(0.957 1)" font-size="21" font-weight="bold">L</text>
<text x="672" y="376.73" font-size="9.8" text-anchor="middle" font-weight="bold" textLength="29.5" lengthAdjust="spacingAndGlyphs">CAL62</text>
<line x1="602" y1="389.2" x2="602" y2="490.6" stroke="#000" stroke-width="1.2"/>
<line x1="597.5" y1="490" x2="602" y2="490" stroke="#000" stroke-width="1.2"/>
<text x="596.5" y="492.88" font-size="8" text-anchor="end">0.0</text>
<line x1="597.5" y1="464.95" x2="602" y2="464.95" stroke="#000" stroke-width="1.2"/>
<text x="596.5" y="467.83" font-size="8" text-anchor="end">0.5</text>
<line x1="597.5" y1="439.9" x2="602" y2="439.9" stroke="#000" stroke-width="1.2"/>
<text x="596.5" y="442.78" font-size="8" text-anchor="end">1.0</text>
<line x1="597.5" y1="414.85" x2="602" y2="414.85" stroke="#000" stroke-width="1.2"/>
<text x="596.5" y="417.73" font-size="8" text-anchor="end">1.5</text>
<line x1="597.5" y1="389.8" x2="602" y2="389.8" stroke="#000" stroke-width="1.2"/>
<text x="596.5" y="392.68" font-size="8" text-anchor="end">2.0</text>
<line x1="601.4" y1="490" x2="741.4" y2="490" stroke="#000" stroke-width="1.2"/>
<line x1="625" y1="490" x2="625" y2="493" stroke="#000" stroke-width="1.2"/>
<rect x="610.35" y="439.9" width="13.1" height="50.1" fill="#9a9a9a" stroke="#000" stroke-width="1"/>
<line x1="616.9" y1="431.88" x2="616.9" y2="439.9" stroke="#000" stroke-width="0.9"/>
<line x1="615.4" y1="431.88" x2="618.4" y2="431.88" stroke="#000" stroke-width="0.9"/>
<line x1="615.4" y1="439.9" x2="618.4" y2="439.9" stroke="#000" stroke-width="0.9"/>
<circle cx="613.23" cy="435.89" r="1.95" fill="#fff" stroke="#000" stroke-width="1"/>
<circle cx="616.9" cy="447.92" r="1.95" fill="#fff" stroke="#000" stroke-width="1"/>
<circle cx="620.57" cy="435.89" r="1.95" fill="#fff" stroke="#000" stroke-width="1"/>
<rect x="626.55" y="439.9" width="13.1" height="50.1" fill="#3fa6f2" stroke="#000" stroke-width="1"/>
<circle cx="629.43" cy="440.9" r="1.95" fill="#fff" stroke="#000" stroke-width="1"/>
<circle cx="633.1" cy="437.39" r="1.95" fill="#fff" stroke="#000" stroke-width="1"/>
<circle cx="636.77" cy="440.4" r="1.95" fill="#fff" stroke="#000" stroke-width="1"/>
<text x="625" y="503.48" font-size="8" text-anchor="middle">Vector</text>
<line x1="672.1" y1="490" x2="672.1" y2="493" stroke="#000" stroke-width="1.2"/>
<rect x="657.45" y="439.9" width="13.1" height="50.1" fill="#9a9a9a" stroke="#000" stroke-width="1"/>
<circle cx="660.33" cy="440.4" r="1.95" fill="#fff" stroke="#000" stroke-width="1"/>
<circle cx="664" cy="439.4" r="1.95" fill="#fff" stroke="#000" stroke-width="1"/>
<circle cx="667.67" cy="439.9" r="1.95" fill="#fff" stroke="#000" stroke-width="1"/>
<rect x="673.65" y="439.9" width="13.1" height="50.1" fill="#3fa6f2" stroke="#000" stroke-width="1"/>
<circle cx="676.53" cy="437.9" r="1.95" fill="#fff" stroke="#000" stroke-width="1"/>
<circle cx="680.2" cy="442.91" r="1.95" fill="#fff" stroke="#000" stroke-width="1"/>
<circle cx="683.87" cy="437.9" r="1.95" fill="#fff" stroke="#000" stroke-width="1"/>
<text x="672.1" y="503.48" font-size="8" text-anchor="middle">A mut</text>
<line x1="719.2" y1="490" x2="719.2" y2="493" stroke="#000" stroke-width="1.2"/>
<rect x="704.55" y="439.9" width="13.1" height="50.1" fill="#9a9a9a" stroke="#000" stroke-width="1"/>
<circle cx="707.43" cy="440.4" r="1.95" fill="#fff" stroke="#000" stroke-width="1"/>
<circle cx="711.1" cy="438.9" r="1.95" fill="#fff" stroke="#000" stroke-width="1"/>
<circle cx="714.77" cy="439.9" r="1.95" fill="#fff" stroke="#000" stroke-width="1"/>
<rect x="720.75" y="439.9" width="13.1" height="50.1" fill="#3fa6f2" stroke="#000" stroke-width="1"/>
<circle cx="723.63" cy="439.9" r="1.95" fill="#fff" stroke="#000" stroke-width="1"/>
<circle cx="727.3" cy="439.4" r="1.95" fill="#fff" stroke="#000" stroke-width="1"/>
<circle cx="730.97" cy="439.4" r="1.95" fill="#fff" stroke="#000" stroke-width="1"/>
<text x="719.2" y="503.48" font-size="8" text-anchor="middle">B mut</text>
<rect x="612.6" y="390.2" width="10.7" height="3.8" fill="#9a9a9a" stroke="#000" stroke-width="0.9"/>
<rect x="612.6" y="400.3" width="10.7" height="3.8" fill="#3fa6f2" stroke="#000" stroke-width="0.9"/>
<text x="629.1" y="394.76" font-size="7.4" textLength="19" lengthAdjust="spacingAndGlyphs">shNC</text>
<text x="629.1" y="404.86" font-size="7.4" textLength="38.8" lengthAdjust="spacingAndGlyphs">sh<tspan font-style="italic">IGF2BP2</tspan></text>
<line x1="663.8" y1="422.9" x2="680.4" y2="422.9" stroke="#555" stroke-width="1.3"/>
<text x="672.1" y="419" font-size="7.5" text-anchor="middle">ns</text>
<line x1="710.9" y1="422.9" x2="727.5" y2="422.9" stroke="#555" stroke-width="1.3"/>
<text x="719.2" y="419" font-size="7.5" text-anchor="middle">ns</text>
<text x="578" y="442.61" font-size="7.8" text-anchor="middle" textLength="95" lengthAdjust="spacingAndGlyphs" transform="rotate(-90 578 439.8)">Relative luciferase activity</text>
<text transform="translate(151.7 374.34) scale(0.937 1)" font-size="21" font-weight="bold">J</text>
<text x="203.6" y="411.41" font-size="7.8" text-anchor="middle" font-weight="bold" textLength="36.5" lengthAdjust="spacingAndGlyphs">Wild type</text>
<path d="M195.86,482.96 A27.3,27.3 0 1 1 199.56,483.89" fill="none" stroke="#000" stroke-width="1.2"/>
<path d="M198.56,484.09 L202.96,481.99 L202.56,485.79 z" fill="#000"/>
<rect x="187.4" y="428.9" width="33.1" height="10.6" fill="#3fa6f2" stroke="#000" stroke-width="1.1"/>
<text x="203.7" y="436.96" font-size="7.4" text-anchor="middle" font-weight="bold" fill="#111" textLength="25.5" lengthAdjust="spacingAndGlyphs">RRC<tspan fill="#d0101a">A</tspan>H</text>
<rect x="162.3" y="453.2" width="27.5" height="11.1" fill="#3fa6f2" stroke="#000" stroke-width="1.1"/>
<text x="176" y="461.46" font-size="7.4" text-anchor="middle" font-weight="bold" fill="#111" textLength="20.5" lengthAdjust="spacingAndGlyphs">F-Luc</text>
<rect x="215.2" y="453.2" width="27.3" height="11.1" fill="#3fa6f2" stroke="#000" stroke-width="1.1"/>
<text x="228.9" y="461.86" font-size="7.4" text-anchor="middle" font-weight="bold" fill="#111" textLength="21.5" lengthAdjust="spacingAndGlyphs">R-Luc</text>
<text x="300.3" y="411.41" font-size="7.8" text-anchor="middle" font-weight="bold" textLength="34.1" lengthAdjust="spacingAndGlyphs">Mutation</text>
<path d="M292.56,482.96 A27.3,27.3 0 1 1 296.26,483.89" fill="none" stroke="#000" stroke-width="1.2"/>
<path d="M295.26,484.09 L299.66,481.99 L299.26,485.79 z" fill="#000"/>
<rect x="284.1" y="428.9" width="33.1" height="10.6" fill="#3fa6f2" stroke="#000" stroke-width="1.1"/>
<text x="300.4" y="436.96" font-size="7.4" text-anchor="middle" font-weight="bold" fill="#111" textLength="25.5" lengthAdjust="spacingAndGlyphs">RRC<tspan fill="#d0101a">C</tspan>H</text>
<rect x="259" y="453.2" width="27.5" height="11.1" fill="#3fa6f2" stroke="#000" stroke-width="1.1"/>
<text x="272.7" y="461.46" font-size="7.4" text-anchor="middle" font-weight="bold" fill="#111" textLength="20.5" lengthAdjust="spacingAndGlyphs">F-Luc</text>
<rect x="311.9" y="453.2" width="27.3" height="11.1" fill="#3fa6f2" stroke="#000" stroke-width="1.1"/>
<text x="325.6" y="461.86" font-size="7.4" text-anchor="middle" font-weight="bold" fill="#111" textLength="21.5" lengthAdjust="spacingAndGlyphs">R-Luc</text>
<text transform="translate(9.86 539.74) scale(1.017 1)" font-size="21" font-weight="bold">M</text>
<text x="136.9" y="570.47" font-size="8.8" text-anchor="middle" fill="#111">IP</text>
<line x1="121.8" y1="577" x2="152.9" y2="577" stroke="#000" stroke-width="1"/>
<text x="110.8" y="623" font-size="8.6" fill="#111" transform="rotate(-90 110.8 623)" textLength="21.6" lengthAdjust="spacingAndGlyphs">Input</text>
<text x="131.4" y="623" font-size="8.6" fill="#111" transform="rotate(-90 131.4 623)" textLength="16.4" lengthAdjust="spacingAndGlyphs">IgG</text>
<text x="148.7" y="623" font-size="8.6" fill="#111" transform="rotate(-90 148.7 623)" textLength="40.6" lengthAdjust="spacingAndGlyphs">IGF2BP2</text>
<text x="163.7" y="622.04" font-size="9" fill="#111" textLength="17.3" lengthAdjust="spacingAndGlyphs">kDa</text>
<rect x="96.1" y="626.9" width="62.8" height="15.8" fill="url(#g4)" stroke="#444" stroke-width="1"/>
<rect x="101.5" y="633.5" width="14" height="5" rx="2.5" fill="#303030" opacity="1" filter="url(#bl2)"/>
<rect x="141" y="635" width="12" height="3" rx="1.5" fill="#707070" opacity="1" filter="url(#bl2)"/>
<rect x="96.1" y="647.4" width="62.8" height="16.2" fill="url(#g5)" stroke="#555" stroke-width="1"/>
<rect x="101.5" y="654.3" width="14" height="2.6" rx="1.3" fill="#555" opacity="1" filter="url(#bl1)"/>
<rect x="138.7" y="653.8" width="14.1" height="2.6" rx="1.3" fill="#000" opacity="1" filter="url(#bl3)"/>
<rect x="139" y="656.5" width="13.8" height="3" rx="1.5" fill="#888" opacity="1" filter="url(#bl2)"/>
<text x="93.1" y="638.8" font-size="10" text-anchor="end" fill="#111" textLength="45.8" lengthAdjust="spacingAndGlyphs">IB:CNOT1</text>
<text x="93.1" y="659.3" font-size="10" text-anchor="end" fill="#111" textLength="55" lengthAdjust="spacingAndGlyphs">IB:IGF2BP2</text>
<text x="163.7" y="638.8" font-size="10" fill="#111" textLength="15.6" lengthAdjust="spacingAndGlyphs">267</text>
<text x="163.7" y="659.3" font-size="10" fill="#111" textLength="10.4" lengthAdjust="spacingAndGlyphs">67</text>
<text x="128.8" y="679.14" font-size="11.5" text-anchor="middle" font-weight="bold" textLength="27.6" lengthAdjust="spacingAndGlyphs">TPC1</text>
<text transform="translate(217.5 539.74) scale(0.989 1)" font-size="21" font-weight="bold">N</text>
<text x="339.6" y="570.47" font-size="8.8" text-anchor="middle" fill="#111">IP</text>
<line x1="324.5" y1="577" x2="355" y2="577" stroke="#000" stroke-width="1"/>
<text x="312.7" y="623" font-size="8.6" fill="#111" transform="rotate(-90 312.7 623)" textLength="21.6" lengthAdjust="spacingAndGlyphs">Input</text>
<text x="334.2" y="623" font-size="8.6" fill="#111" transform="rotate(-90 334.2 623)" textLength="16.4" lengthAdjust="spacingAndGlyphs">IgG</text>
<text x="352" y="623" font-size="8.6" fill="#111" transform="rotate(-90 352 623)" textLength="40.6" lengthAdjust="spacingAndGlyphs">IGF2BP2</text>
<text x="366.2" y="622.04" font-size="9" fill="#111" textLength="17.3" lengthAdjust="spacingAndGlyphs">kDa</text>
<rect x="298.3" y="626.4" width="62.8" height="16.2" fill="#e3e3e3" stroke="#777" stroke-width="1"/>
<rect x="304.9" y="634.3" width="13.3" height="2.2" rx="1.1" fill="#333" opacity="1" filter="url(#bl3)"/>
<rect x="305" y="636" width="13" height="3" rx="1.5" fill="#bbb" opacity="1" filter="url(#bl2)"/>
<rect x="341.9" y="633.1" width="14.1" height="3.2" rx="1" fill="#000" opacity="1" filter="url(#bl3)"/>
<rect x="342" y="635.5" width="14" height="4" rx="2" fill="#999" opacity="1" filter="url(#bl2)"/>
<rect x="298.3" y="647.1" width="62.8" height="16.5" fill="#cdcdcd" stroke="#666" stroke-width="1"/>
<rect x="305" y="655.5" width="13" height="3" rx="1.5" fill="#aaa" opacity="1" filter="url(#bl2)"/>
<rect x="343.2" y="653.2" width="11.9" height="2.8" rx="1.4" fill="#000" opacity="1" filter="url(#bl3)"/>
<rect x="343" y="656.5" width="12.5" height="5" rx="2.5" fill="#444" opacity="1" filter="url(#bl2)"/>
<text x="295" y="638.8" font-size="10" text-anchor="end" fill="#111" textLength="45.8" lengthAdjust="spacingAndGlyphs">IB:CNOT1</text>
<text x="295" y="659.3" font-size="10" text-anchor="end" fill="#111" textLength="55" lengthAdjust="spacingAndGlyphs">IB:IGF2BP2</text>
<text x="366.2" y="638.8" font-size="10" fill="#111" textLength="15.6" lengthAdjust="spacingAndGlyphs">267</text>
<text x="366.2" y="659.3" font-size="10" fill="#111" textLength="10.4" lengthAdjust="spacingAndGlyphs">67</text>
<text x="333.5" y="679.14" font-size="11.5" text-anchor="middle" font-weight="bold" textLength="35" lengthAdjust="spacingAndGlyphs">CAL62</text>
<text transform="translate(406.39 539.55) scale(0.966 1)" font-size="21" font-weight="bold">O</text>
<text x="521.8" y="543.73" font-size="9.8" text-anchor="middle" font-weight="bold" textLength="23.5" lengthAdjust="spacingAndGlyphs">TPC1</text>
<line x1="464.3" y1="557.26" x2="464.3" y2="664.3" stroke="#000" stroke-width="1.2"/>
<line x1="460.1" y1="663.7" x2="464.3" y2="663.7" stroke="#000" stroke-width="1.2"/>
<text x="459.1" y="666.65" font-size="8.2" text-anchor="end">0</text>
<line x1="460.1" y1="637.24" x2="464.3" y2="637.24" stroke="#000" stroke-width="1.2"/>
<text x="459.1" y="640.19" font-size="8.2" text-anchor="end">2</text>
<line x1="460.1" y1="610.78" x2="464.3" y2="610.78" stroke="#000" stroke-width="1.2"/>
<text x="459.1" y="613.73" font-size="8.2" text-anchor="end">4</text>
<line x1="460.1" y1="584.32" x2="464.3" y2="584.32" stroke="#000" stroke-width="1.2"/>
<text x="459.1" y="587.27" font-size="8.2" text-anchor="end">6</text>
<line x1="460.1" y1="557.86" x2="464.3" y2="557.86" stroke="#000" stroke-width="1.2"/>
<text x="459.1" y="560.81" font-size="8.2" text-anchor="end">8</text>
<line x1="463.7" y1="663.7" x2="577.7" y2="663.7" stroke="#000" stroke-width="1.2"/>
<line x1="491.5" y1="663.7" x2="491.5" y2="666.7" stroke="#000" stroke-width="1.2"/>
<rect x="470.5" y="650.47" width="10.6" height="13.23" fill="#9a9a9a" stroke="#000" stroke-width="1"/>
<circle cx="472.62" cy="650.87" r="2" fill="#fff" stroke="#000" stroke-width="1"/>
<circle cx="475.8" cy="649.68" r="2" fill="#fff" stroke="#000" stroke-width="1"/>
<circle cx="478.98" cy="650.47" r="2" fill="#fff" stroke="#000" stroke-width="1"/>
<rect x="485.9" y="663.04" width="10.6" height="0.66" fill="#3fa6f2" stroke="#000" stroke-width="1"/>
<circle cx="488.02" cy="663.04" r="2" fill="#fff" stroke="#000" stroke-width="1"/>
<circle cx="491.2" cy="662.91" r="2" fill="#fff" stroke="#000" stroke-width="1"/>
<circle cx="494.38" cy="663.04" r="2" fill="#fff" stroke="#000" stroke-width="1"/>
<rect x="502.4" y="661.72" width="10.6" height="1.98" fill="#c0000f" stroke="#000" stroke-width="1"/>
<circle cx="504.52" cy="661.58" r="2" fill="#fff" stroke="#000" stroke-width="1"/>
<circle cx="507.7" cy="661.72" r="2" fill="#fff" stroke="#000" stroke-width="1"/>
<circle cx="510.88" cy="661.45" r="2" fill="#fff" stroke="#000" stroke-width="1"/>
<line x1="552" y1="663.7" x2="552" y2="666.7" stroke="#000" stroke-width="1.2"/>
<rect x="530.3" y="650.47" width="10.6" height="13.23" fill="#9a9a9a" stroke="#000" stroke-width="1"/>
<circle cx="532.42" cy="650.73" r="2" fill="#fff" stroke="#000" stroke-width="1"/>
<circle cx="535.6" cy="649.81" r="2" fill="#fff" stroke="#000" stroke-width="1"/>
<circle cx="538.78" cy="650.47" r="2" fill="#fff" stroke="#000" stroke-width="1"/>
<rect x="546.8" y="604.17" width="10.6" height="59.53" fill="#3fa6f2" stroke="#000" stroke-width="1"/>
<line x1="552.1" y1="602.18" x2="552.1" y2="604.17" stroke="#000" stroke-width="0.9"/>
<line x1="550.6" y1="602.18" x2="553.6" y2="602.18" stroke="#000" stroke-width="0.9"/>
<line x1="550.6" y1="604.17" x2="553.6" y2="604.17" stroke="#000" stroke-width="0.9"/>
<circle cx="548.92" cy="602.84" r="2" fill="#fff" stroke="#000" stroke-width="1"/>
<circle cx="552.1" cy="608.8" r="2" fill="#fff" stroke="#000" stroke-width="1"/>
<circle cx="555.28" cy="602.18" r="2" fill="#fff" stroke="#000" stroke-width="1"/>
<rect x="563" y="607.47" width="10.6" height="56.23" fill="#c0000f" stroke="#000" stroke-width="1"/>
<circle cx="565.12" cy="608.13" r="2" fill="#fff" stroke="#000" stroke-width="1"/>
<circle cx="568.3" cy="606.41" r="2" fill="#fff" stroke="#000" stroke-width="1"/>
<circle cx="571.48" cy="606.55" r="2" fill="#fff" stroke="#000" stroke-width="1"/>
<rect x="471.3" y="552" width="11.7" height="3.8" fill="#9a9a9a" stroke="#000" stroke-width="0.9"/>
<rect x="471.3" y="565.3" width="11.7" height="3.8" fill="#3fa6f2" stroke="#000" stroke-width="0.9"/>
<rect x="471.3" y="578.6" width="11.7" height="3.8" fill="#c0000f" stroke="#000" stroke-width="0.9"/>
<text x="488.3" y="556.64" font-size="7.6" textLength="19.8" lengthAdjust="spacingAndGlyphs">si-NC</text>
<text x="488.3" y="569.94" font-size="7.6" textLength="39" lengthAdjust="spacingAndGlyphs">si-<tspan font-style="italic">CNOT1</tspan>-1</text>
<text x="488.3" y="583.24" font-size="7.6" textLength="39" lengthAdjust="spacingAndGlyphs">si-<tspan font-style="italic">CNOT1</tspan>-2</text>
<line x1="477" y1="627" x2="491.2" y2="627" stroke="#000" stroke-width="1.2"/>
<text x="483.8" y="627.41" font-size="12" text-anchor="middle">***</text>
<line x1="477" y1="640.9" x2="505.6" y2="640.9" stroke="#000" stroke-width="1.2"/>
<text x="491.2" y="641.71" font-size="12" text-anchor="middle">***</text>
<line x1="537" y1="576.5" x2="551.6" y2="576.5" stroke="#000" stroke-width="1.2"/>
<text x="543.6" y="577.41" font-size="12" text-anchor="middle">***</text>
<line x1="537" y1="589.8" x2="565.4" y2="589.8" stroke="#000" stroke-width="1.2"/>
<text x="550.8" y="590.71" font-size="12" text-anchor="middle">***</text>
<text x="491.8" y="677.12" font-size="8.4" text-anchor="middle" font-style="italic" textLength="28" lengthAdjust="spacingAndGlyphs">CNOT1</text>
<text x="552.1" y="677.12" font-size="8.4" text-anchor="middle" font-style="italic" textLength="26" lengthAdjust="spacingAndGlyphs">STAT1</text>
<text x="446.5" y="613.9" font-size="8.6" text-anchor="middle" textLength="101.6" lengthAdjust="spacingAndGlyphs" transform="rotate(-90 446.5 610.8)">Relative amount of mRNA</text>
<text x="677.9" y="574.66" font-size="9.6" text-anchor="middle" font-weight="bold" textLength="24" lengthAdjust="spacingAndGlyphs">TPC1</text>
<text x="709.6" y="577.6" font-size="10" textLength="17.2" lengthAdjust="spacingAndGlyphs">kDa</text>
<rect x="644.6" y="581.2" width="62.3" height="15.1" fill="url(#g6)" stroke="#555" stroke-width="1"/>
<rect x="650" y="587" width="13" height="3" rx="1.5" fill="#999" opacity="1" filter="url(#bl2)"/>
<rect x="688" y="587" width="15" height="6" rx="3" fill="#a0a0a0" opacity="1" filter="url(#bl2)"/>
<rect x="644.6" y="605.5" width="62.3" height="14" fill="#c6c6c6" stroke="#555" stroke-width="1"/>
<ellipse cx="656.5" cy="611.5" rx="1.9" ry="3" fill="#000" filter="url(#bl3)"/>
<rect x="669.2" y="611.5" width="12.9" height="2.6" rx="1.3" fill="#000" opacity="1" filter="url(#bl3)"/>
<rect x="687.9" y="611.6" width="14.4" height="2.8" rx="1.4" fill="#000" opacity="1" filter="url(#bl3)"/>
<rect x="669" y="613.5" width="13" height="3" rx="1.5" fill="#777" opacity="1" filter="url(#bl2)"/>
<rect x="688" y="613.5" width="14" height="3" rx="1.5" fill="#777" opacity="1" filter="url(#bl2)"/>
<rect x="644.6" y="629.4" width="62.3" height="14.1" fill="#e2e2e2" stroke="#555" stroke-width="1"/>
<rect x="650.5" y="633.5" width="15.4" height="4.6" rx="2.3" fill="#050505" opacity="1" filter="url(#bl1)"/>
<rect x="669.2" y="634.4" width="13.9" height="4.2" rx="2.1" fill="#050505" opacity="1" filter="url(#bl1)"/>
<rect x="687" y="634.8" width="16.2" height="4.4" rx="2.2" fill="#050505" opacity="1" filter="url(#bl1)"/>
<text x="656.8" y="603.42" font-size="7" text-anchor="middle" fill="#222">1.0</text>
<text x="678.3" y="603.42" font-size="7" text-anchor="middle" fill="#222">0.2</text>
<text x="696.5" y="603.42" font-size="7" text-anchor="middle" fill="#222">0.3</text>
<text x="656.8" y="627.12" font-size="7" text-anchor="middle" fill="#222">1.0</text>
<text x="678.3" y="627.12" font-size="7" text-anchor="middle" fill="#222">2.6</text>
<text x="696.5" y="627.12" font-size="7" text-anchor="middle" fill="#222">2.8</text>
<text x="656.8" y="650.32" font-size="7" text-anchor="middle" fill="#222">1.0</text>
<text x="678.3" y="650.32" font-size="7" text-anchor="middle" fill="#222">0.9</text>
<text x="696.5" y="650.32" font-size="7" text-anchor="middle" fill="#222">0.9</text>
<text x="642.3" y="593.24" font-size="10.4" text-anchor="end" fill="#111" textLength="32.9" lengthAdjust="spacingAndGlyphs">CNOT1</text>
<text x="642.3" y="616.54" font-size="10.4" text-anchor="end" fill="#111" textLength="29.2" lengthAdjust="spacingAndGlyphs">STAT1</text>
<text x="642.3" y="639.54" font-size="10.4" text-anchor="end" fill="#111" textLength="35" lengthAdjust="spacingAndGlyphs">GAPDH</text>
<text x="709.6" y="593.24" font-size="10.4" fill="#111" textLength="17.6" lengthAdjust="spacingAndGlyphs">267</text>
<text x="709.6" y="616.54" font-size="10.4" fill="#111" textLength="11.6" lengthAdjust="spacingAndGlyphs">87</text>
<text x="709.6" y="639.54" font-size="10.4" fill="#111" textLength="11.6" lengthAdjust="spacingAndGlyphs">36</text>
<text x="656.8" y="658.71" font-size="7.8" text-anchor="middle" fill="#222" textLength="19" lengthAdjust="spacingAndGlyphs">si-NC</text>
<text x="688" y="658.71" font-size="7.8" text-anchor="middle" fill="#222" textLength="32" lengthAdjust="spacingAndGlyphs">si-<tspan font-style="italic">CNOT1</tspan></text>
<line x1="667.6" y1="663" x2="705.3" y2="663" stroke="#000" stroke-width="1"/>
<text x="674" y="671.92" font-size="7" text-anchor="middle" fill="#222">1#</text>
<text x="695.1" y="671.92" font-size="7" text-anchor="middle" font-style="italic" fill="#222">2#</text>
<text transform="translate(13.56 725.24) scale(0.944 1)" font-size="21" font-weight="bold">P</text>
<text x="117" y="730.93" font-size="9.8" text-anchor="middle" font-weight="bold" textLength="29" lengthAdjust="spacingAndGlyphs">CAL62</text>
<line x1="61.5" y1="744.5" x2="61.5" y2="849" stroke="#000" stroke-width="1.2"/>
<line x1="57.3" y1="848.4" x2="61.5" y2="848.4" stroke="#000" stroke-width="1.2"/>
<text x="56.3" y="851.28" font-size="8" text-anchor="end">0</text>
<line x1="57.3" y1="827.74" x2="61.5" y2="827.74" stroke="#000" stroke-width="1.2"/>
<text x="56.3" y="830.62" font-size="8" text-anchor="end">2</text>
<line x1="57.3" y1="807.08" x2="61.5" y2="807.08" stroke="#000" stroke-width="1.2"/>
<text x="56.3" y="809.96" font-size="8" text-anchor="end">4</text>
<line x1="57.3" y1="786.42" x2="61.5" y2="786.42" stroke="#000" stroke-width="1.2"/>
<text x="56.3" y="789.3" font-size="8" text-anchor="end">6</text>
<line x1="57.3" y1="765.76" x2="61.5" y2="765.76" stroke="#000" stroke-width="1.2"/>
<text x="56.3" y="768.64" font-size="8" text-anchor="end">8</text>
<line x1="57.3" y1="745.1" x2="61.5" y2="745.1" stroke="#000" stroke-width="1.2"/>
<text x="56.3" y="747.98" font-size="8" text-anchor="end">10</text>
<line x1="60.9" y1="848.4" x2="174.2" y2="848.4" stroke="#000" stroke-width="1.2"/>
<line x1="87.8" y1="848.4" x2="87.8" y2="851.4" stroke="#000" stroke-width="1.2"/>
<rect x="67" y="838.07" width="10.6" height="10.33" fill="#9a9a9a" stroke="#000" stroke-width="1"/>
<circle cx="69.12" cy="838.38" r="2" fill="#fff" stroke="#000" stroke-width="1"/>
<circle cx="72.3" cy="837.45" r="2" fill="#fff" stroke="#000" stroke-width="1"/>
<circle cx="75.48" cy="838.07" r="2" fill="#fff" stroke="#000" stroke-width="1"/>
<rect x="82.6" y="847.37" width="10.6" height="1.03" fill="#3fa6f2" stroke="#000" stroke-width="1"/>
<circle cx="84.72" cy="847.16" r="2" fill="#fff" stroke="#000" stroke-width="1"/>
<circle cx="87.9" cy="847.06" r="2" fill="#fff" stroke="#000" stroke-width="1"/>
<circle cx="91.08" cy="847.16" r="2" fill="#fff" stroke="#000" stroke-width="1"/>
<rect x="98.4" y="845.3" width="10.6" height="3.1" fill="#c0000f" stroke="#000" stroke-width="1"/>
<circle cx="100.52" cy="845.3" r="2" fill="#fff" stroke="#000" stroke-width="1"/>
<circle cx="103.7" cy="844.47" r="2" fill="#fff" stroke="#000" stroke-width="1"/>
<circle cx="106.88" cy="844.78" r="2" fill="#fff" stroke="#000" stroke-width="1"/>
<line x1="147.6" y1="848.4" x2="147.6" y2="851.4" stroke="#000" stroke-width="1.2"/>
<rect x="125.8" y="838.07" width="10.6" height="10.33" fill="#9a9a9a" stroke="#000" stroke-width="1"/>
<circle cx="127.92" cy="838.28" r="2" fill="#fff" stroke="#000" stroke-width="1"/>
<circle cx="131.1" cy="837.55" r="2" fill="#fff" stroke="#000" stroke-width="1"/>
<circle cx="134.28" cy="838.07" r="2" fill="#fff" stroke="#000" stroke-width="1"/>
<rect x="142.3" y="770.92" width="10.6" height="77.48" fill="#3fa6f2" stroke="#000" stroke-width="1"/>
<line x1="147.6" y1="767.31" x2="147.6" y2="770.92" stroke="#000" stroke-width="0.9"/>
<line x1="146.1" y1="767.31" x2="149.1" y2="767.31" stroke="#000" stroke-width="0.9"/>
<line x1="146.1" y1="770.92" x2="149.1" y2="770.92" stroke="#000" stroke-width="0.9"/>
<circle cx="144.42" cy="767.83" r="2" fill="#fff" stroke="#000" stroke-width="1"/>
<circle cx="147.6" cy="774.02" r="2" fill="#fff" stroke="#000" stroke-width="1"/>
<circle cx="150.78" cy="769.89" r="2" fill="#fff" stroke="#000" stroke-width="1"/>
<rect x="158.2" y="811.21" width="10.6" height="37.19" fill="#c0000f" stroke="#000" stroke-width="1"/>
<circle cx="160.32" cy="812.25" r="2" fill="#fff" stroke="#000" stroke-width="1"/>
<circle cx="163.5" cy="810.7" r="2" fill="#fff" stroke="#000" stroke-width="1"/>
<circle cx="166.68" cy="810.59" r="2" fill="#fff" stroke="#000" stroke-width="1"/>
<rect x="66" y="739.3" width="11.7" height="3.8" fill="#9a9a9a" stroke="#000" stroke-width="0.9"/>
<rect x="66" y="753.1" width="11.7" height="3.8" fill="#3fa6f2" stroke="#000" stroke-width="0.9"/>
<rect x="66" y="766.7" width="11.7" height="3.8" fill="#c0000f" stroke="#000" stroke-width="0.9"/>
<text x="83" y="743.94" font-size="7.6" textLength="19.8" lengthAdjust="spacingAndGlyphs">si-NC</text>
<text x="83" y="757.74" font-size="7.6" textLength="39" lengthAdjust="spacingAndGlyphs">si-<tspan font-style="italic">CNOT1</tspan>-1</text>
<text x="83" y="771.34" font-size="7.6" textLength="39" lengthAdjust="spacingAndGlyphs">si-<tspan font-style="italic">CNOT1</tspan>-2</text>
<line x1="73.1" y1="813.6" x2="87.2" y2="813.6" stroke="#000" stroke-width="1.2"/>
<text x="79.8" y="813.41" font-size="12" text-anchor="middle">***</text>
<line x1="73.1" y1="827.1" x2="101.1" y2="827.1" stroke="#000" stroke-width="1.2"/>
<text x="87.2" y="827.71" font-size="12" text-anchor="middle">***</text>
<line x1="131.1" y1="748.7" x2="145.7" y2="748.7" stroke="#000" stroke-width="1.2"/>
<text x="138.3" y="748.81" font-size="12" text-anchor="middle">***</text>
<line x1="131.1" y1="762.5" x2="159" y2="762.5" stroke="#000" stroke-width="1.2"/>
<text x="145.7" y="762.81" font-size="12" text-anchor="middle">***</text>
<text x="87.8" y="862.12" font-size="8.4" text-anchor="middle" font-style="italic" textLength="28" lengthAdjust="spacingAndGlyphs">CNOT1</text>
<text x="147.6" y="862.12" font-size="8.4" text-anchor="middle" font-style="italic" textLength="26" lengthAdjust="spacingAndGlyphs">STAT1</text>
<text x="38.6" y="799.3" font-size="8.6" text-anchor="middle" textLength="100" lengthAdjust="spacingAndGlyphs" transform="rotate(-90 38.6 796.2)">Relative amount of mRNA</text>
<text x="272.7" y="759.54" font-size="10.4" text-anchor="middle" font-weight="bold" textLength="31.4" lengthAdjust="spacingAndGlyphs">CAL62</text>
<text x="304.9" y="760.6" font-size="10" textLength="18.5" lengthAdjust="spacingAndGlyphs">kDa</text>
<rect x="240.3" y="765.3" width="62.6" height="14.6" fill="url(#g7)" stroke="#333" stroke-width="1"/>
<rect x="245.1" y="771.9" width="12.5" height="3" rx="1.5" fill="#505050" opacity="1" filter="url(#bl2)"/>
<rect x="240.3" y="788.5" width="62.6" height="13.6" fill="#d6d6d6" stroke="#555" stroke-width="1"/>
<rect x="264.7" y="793.6" width="14.9" height="4.6" rx="2.3" fill="#000" opacity="1" filter="url(#bl3)"/>
<rect x="264" y="790" width="16" height="4" rx="2" fill="#999" opacity="1" filter="url(#bl2)"/>
<rect x="283.9" y="795.6" width="15.3" height="2.6" rx="1.3" fill="#111" opacity="1" filter="url(#bl3)"/>
<rect x="240.3" y="811.7" width="62.6" height="13.9" fill="#d4d4d4" stroke="#444" stroke-width="1"/>
<rect x="245.1" y="815.8" width="14.9" height="4.4" rx="2.2" fill="#050505" opacity="1" filter="url(#bl1)"/>
<rect x="264.3" y="816.6" width="15.3" height="4" rx="2" fill="#050505" opacity="1" filter="url(#bl1)"/>
<rect x="283.9" y="817.8" width="15.3" height="3.4" rx="1.7" fill="#050505" opacity="1" filter="url(#bl1)"/>
<text x="250.8" y="786.52" font-size="7" text-anchor="middle" fill="#222">1.0</text>
<text x="268.6" y="786.52" font-size="7" text-anchor="middle" fill="#222">0.2</text>
<text x="290.6" y="786.52" font-size="7" text-anchor="middle" fill="#222">0.3</text>
<text x="250.8" y="809.92" font-size="7" text-anchor="middle" fill="#222">1.0</text>
<text x="268.6" y="809.92" font-size="7" text-anchor="middle" fill="#222">3.6</text>
<text x="290.6" y="809.92" font-size="7" text-anchor="middle" fill="#222">2.8</text>
<text x="250.8" y="832.92" font-size="7" text-anchor="middle" fill="#222">1.0</text>
<text x="268.6" y="832.92" font-size="7" text-anchor="middle" fill="#222">1.0</text>
<text x="290.6" y="832.92" font-size="7" text-anchor="middle" fill="#222">0.9</text>
<text x="238.6" y="776.94" font-size="10.4" text-anchor="end" fill="#111" textLength="33" lengthAdjust="spacingAndGlyphs">CNOT1</text>
<text x="238.6" y="801.24" font-size="10.4" text-anchor="end" fill="#111" textLength="29.2" lengthAdjust="spacingAndGlyphs">STAT1</text>
<text x="238.6" y="822.74" font-size="10.4" text-anchor="end" fill="#111" textLength="35" lengthAdjust="spacingAndGlyphs">GAPDH</text>
<text x="305.4" y="776.94" font-size="10.4" fill="#111" textLength="17.6" lengthAdjust="spacingAndGlyphs">267</text>
<text x="305.4" y="801.24" font-size="10.4" fill="#111" textLength="11.6" lengthAdjust="spacingAndGlyphs">87</text>
<text x="305.4" y="822.74" font-size="10.4" fill="#111" textLength="11.6" lengthAdjust="spacingAndGlyphs">36</text>
<text x="252.5" y="841.51" font-size="7.8" text-anchor="middle" fill="#222" textLength="19" lengthAdjust="spacingAndGlyphs">si-NC</text>
<text x="283.9" y="841.51" font-size="7.8" text-anchor="middle" fill="#222" textLength="31" lengthAdjust="spacingAndGlyphs">si-CNOT1</text>
<line x1="264.1" y1="845.9" x2="301.8" y2="845.9" stroke="#000" stroke-width="1"/>
<text x="272.2" y="855.62" font-size="7" text-anchor="middle" font-weight="bold" fill="#222">1#</text>
<text x="293.4" y="855.62" font-size="7" text-anchor="middle" font-weight="bold" font-style="italic" fill="#222">2#</text>
<text transform="translate(328.36 725.25) scale(1.000 1)" font-size="21" font-weight="bold">Q</text>
<text x="452.5" y="729.93" font-size="9.8" text-anchor="middle" font-weight="bold" textLength="23.6" lengthAdjust="spacingAndGlyphs">TPC1</text>
<line x1="379.7" y1="741.6" x2="379.7" y2="848.3" stroke="#000" stroke-width="1.35"/>
<line x1="379.2" y1="847.8" x2="524.9" y2="847.8" stroke="#000" stroke-width="1.35"/>
<line x1="375.7" y1="847.8" x2="379.7" y2="847.8" stroke="#000" stroke-width="1.35"/>
<text x="374.8" y="850.59" font-size="7.2" text-anchor="end" font-weight="bold" textLength="10.5" lengthAdjust="spacingAndGlyphs">0.0</text>
<line x1="375.7" y1="812.4" x2="379.7" y2="812.4" stroke="#000" stroke-width="1.35"/>
<text x="374.8" y="815.19" font-size="7.2" text-anchor="end" font-weight="bold" textLength="10.5" lengthAdjust="spacingAndGlyphs">0.5</text>
<line x1="375.7" y1="777" x2="379.7" y2="777" stroke="#000" stroke-width="1.35"/>
<text x="374.8" y="779.79" font-size="7.2" text-anchor="end" font-weight="bold" textLength="10.5" lengthAdjust="spacingAndGlyphs">1.0</text>
<line x1="375.7" y1="741.6" x2="379.7" y2="741.6" stroke="#000" stroke-width="1.35"/>
<text x="374.8" y="744.39" font-size="7.2" text-anchor="end" font-weight="bold" textLength="10.5" lengthAdjust="spacingAndGlyphs">1.5</text>
<line x1="379.7" y1="847.8" x2="379.7" y2="851.3" stroke="#000" stroke-width="1.35"/>
<text x="379.7" y="860.32" font-size="7" text-anchor="middle" font-weight="bold">0</text>
<line x1="406.18" y1="847.8" x2="406.18" y2="851.3" stroke="#000" stroke-width="1.35"/>
<text x="406.18" y="860.32" font-size="7" text-anchor="middle" font-weight="bold">2</text>
<line x1="432.66" y1="847.8" x2="432.66" y2="851.3" stroke="#000" stroke-width="1.35"/>
<text x="432.66" y="860.32" font-size="7" text-anchor="middle" font-weight="bold">4</text>
<line x1="459.14" y1="847.8" x2="459.14" y2="851.3" stroke="#000" stroke-width="1.35"/>
<text x="459.14" y="860.32" font-size="7" text-anchor="middle" font-weight="bold">6</text>
<line x1="485.62" y1="847.8" x2="485.62" y2="851.3" stroke="#000" stroke-width="1.35"/>
<text x="485.62" y="860.32" font-size="7" text-anchor="middle" font-weight="bold">8</text>
<line x1="512.1" y1="847.8" x2="512.1" y2="851.3" stroke="#000" stroke-width="1.35"/>
<text x="512.1" y="860.32" font-size="7" text-anchor="middle" font-weight="bold">10</text>
<line x1="379.7" y1="782.03" x2="512.1" y2="802.64" stroke="#3f9fe6" stroke-width="1.7"/>
<line x1="379.7" y1="777.39" x2="512.1" y2="822.08" stroke="#8f8f8f" stroke-width="1.7"/>
<line x1="406.18" y1="792.79" x2="406.18" y2="801.28" stroke="#000" stroke-width="1.1"/>
<line x1="403.88" y1="792.79" x2="408.48" y2="792.79" stroke="#000" stroke-width="1.1"/>
<line x1="403.88" y1="801.28" x2="408.48" y2="801.28" stroke="#000" stroke-width="1.1"/>
<line x1="432.66" y1="781.32" x2="432.66" y2="787.69" stroke="#000" stroke-width="1.1"/>
<line x1="430.36" y1="781.32" x2="434.96" y2="781.32" stroke="#000" stroke-width="1.1"/>
<line x1="430.36" y1="787.69" x2="434.96" y2="787.69" stroke="#000" stroke-width="1.1"/>
<line x1="432.66" y1="792.58" x2="432.66" y2="803.9" stroke="#000" stroke-width="1.1"/>
<line x1="430.36" y1="792.58" x2="434.96" y2="792.58" stroke="#000" stroke-width="1.1"/>
<line x1="430.36" y1="803.9" x2="434.96" y2="803.9" stroke="#000" stroke-width="1.1"/>
<line x1="459.14" y1="788.33" x2="459.14" y2="796.82" stroke="#000" stroke-width="1.1"/>
<line x1="456.84" y1="788.33" x2="461.44" y2="788.33" stroke="#000" stroke-width="1.1"/>
<line x1="456.84" y1="796.82" x2="461.44" y2="796.82" stroke="#000" stroke-width="1.1"/>
<line x1="485.62" y1="799.02" x2="485.62" y2="805.39" stroke="#000" stroke-width="1.1"/>
<line x1="483.32" y1="799.02" x2="487.92" y2="799.02" stroke="#000" stroke-width="1.1"/>
<line x1="483.32" y1="805.39" x2="487.92" y2="805.39" stroke="#000" stroke-width="1.1"/>
<line x1="512.1" y1="798.24" x2="512.1" y2="803.9" stroke="#000" stroke-width="1.1"/>
<line x1="509.8" y1="798.24" x2="514.4" y2="798.24" stroke="#000" stroke-width="1.1"/>
<line x1="509.8" y1="803.9" x2="514.4" y2="803.9" stroke="#000" stroke-width="1.1"/>
<circle cx="379.7" cy="777" r="2.4" fill="#fff" stroke="#000" stroke-width="1.05"/>
<circle cx="406.18" cy="788.82" r="2.4" fill="#fff" stroke="#000" stroke-width="1.05"/>
<circle cx="406.18" cy="797.04" r="2.4" fill="#fff" stroke="#000" stroke-width="1.05"/>
<circle cx="432.66" cy="784.5" r="2.4" fill="#fff" stroke="#000" stroke-width="1.05"/>
<circle cx="432.66" cy="798.24" r="2.4" fill="#fff" stroke="#000" stroke-width="1.05"/>
<circle cx="459.14" cy="792.58" r="2.4" fill="#fff" stroke="#000" stroke-width="1.05"/>
<circle cx="459.14" cy="795.76" r="2.4" fill="#fff" stroke="#000" stroke-width="1.05"/>
<circle cx="485.62" cy="802.2" r="2.4" fill="#fff" stroke="#000" stroke-width="1.05"/>
<circle cx="485.62" cy="812.4" r="2.4" fill="#fff" stroke="#000" stroke-width="1.05"/>
<circle cx="512.1" cy="801.07" r="2.4" fill="#fff" stroke="#000" stroke-width="1.05"/>
<circle cx="512.1" cy="825.5" r="2.4" fill="#fff" stroke="#000" stroke-width="1.05"/>
<line x1="388.7" y1="743.9" x2="398.7" y2="743.9" stroke="#666" stroke-width="1.1"/>
<circle cx="393.7" cy="743.9" r="2.4" fill="#fff" stroke="#000" stroke-width="1.05"/>
<line x1="388.7" y1="756.5" x2="398.7" y2="756.5" stroke="#3f9fe6" stroke-width="1.1"/>
<circle cx="393.7" cy="756.5" r="2.4" fill="#fff" stroke="#000" stroke-width="1.05"/>
<text x="404.8" y="746.71" font-size="7.8" textLength="18.5" lengthAdjust="spacingAndGlyphs">si-NC</text>
<text x="459" y="746.71" font-size="7.8" textLength="38" lengthAdjust="spacingAndGlyphs">T<tspan font-size="5" dy="1.5">1/2</tspan><tspan dy="-1.5">=7.83h</tspan></text>
<text x="404.8" y="759.31" font-size="7.8" textLength="42.5" lengthAdjust="spacingAndGlyphs">si-<tspan font-style="italic">CNOT1</tspan>-1</text>
<text x="459" y="759.31" font-size="7.8" textLength="43.6" lengthAdjust="spacingAndGlyphs">T<tspan font-size="5" dy="1.5">1/2</tspan><tspan dy="-1.5">=14.74h</tspan></text>
<text x="437" y="776.01" font-size="7.8" fill="#4aa6ec" textLength="85.7" lengthAdjust="spacingAndGlyphs">y = -0.02911*x + 0.9290</text>
<text x="396.5" y="830.21" font-size="7.8" fill="#a9a9a9" textLength="85.7" lengthAdjust="spacingAndGlyphs">y = -0.06312*x + 0.9945</text>
<text x="521.3" y="821.8" font-size="10" text-anchor="middle" font-weight="bold">*</text>
<text x="451" y="871.15" font-size="8.2" text-anchor="middle" textLength="108.9" lengthAdjust="spacingAndGlyphs">Time after ActD treatment( h)</text>
<text x="356.8" y="797.04" font-size="7.9" text-anchor="middle" textLength="105.6" lengthAdjust="spacingAndGlyphs" transform="rotate(-90 356.8 794.2)">% of <tspan font-style="italic">STAT1</tspan> mRNA remaining</text>
<text transform="translate(531.63 725.24) scale(0.964 1)" font-size="21" font-weight="bold">R</text>
<text x="654.7" y="729.93" font-size="9.8" text-anchor="middle" font-weight="bold" textLength="28.7" lengthAdjust="spacingAndGlyphs">CAL62</text>
<line x1="582.3" y1="742.75" x2="582.3" y2="847.5" stroke="#000" stroke-width="1.35"/>
<line x1="581.8" y1="847" x2="727.5" y2="847" stroke="#000" stroke-width="1.35"/>
<line x1="578.3" y1="847" x2="582.3" y2="847" stroke="#000" stroke-width="1.35"/>
<text x="577.4" y="849.79" font-size="7.2" text-anchor="end" font-weight="bold" textLength="10.5" lengthAdjust="spacingAndGlyphs">0.0</text>
<line x1="578.3" y1="812.25" x2="582.3" y2="812.25" stroke="#000" stroke-width="1.35"/>
<text x="577.4" y="815.04" font-size="7.2" text-anchor="end" font-weight="bold" textLength="10.5" lengthAdjust="spacingAndGlyphs">0.5</text>
<line x1="578.3" y1="777.5" x2="582.3" y2="777.5" stroke="#000" stroke-width="1.35"/>
<text x="577.4" y="780.29" font-size="7.2" text-anchor="end" font-weight="bold" textLength="10.5" lengthAdjust="spacingAndGlyphs">1.0</text>
<line x1="578.3" y1="742.75" x2="582.3" y2="742.75" stroke="#000" stroke-width="1.35"/>
<text x="577.4" y="745.54" font-size="7.2" text-anchor="end" font-weight="bold" textLength="10.5" lengthAdjust="spacingAndGlyphs">1.5</text>
<line x1="582.3" y1="847" x2="582.3" y2="850.5" stroke="#000" stroke-width="1.35"/>
<text x="582.3" y="859.62" font-size="7" text-anchor="middle" font-weight="bold">0</text>
<line x1="608.64" y1="847" x2="608.64" y2="850.5" stroke="#000" stroke-width="1.35"/>
<text x="608.64" y="859.62" font-size="7" text-anchor="middle" font-weight="bold">2</text>
<line x1="634.98" y1="847" x2="634.98" y2="850.5" stroke="#000" stroke-width="1.35"/>
<text x="634.98" y="859.62" font-size="7" text-anchor="middle" font-weight="bold">4</text>
<line x1="661.32" y1="847" x2="661.32" y2="850.5" stroke="#000" stroke-width="1.35"/>
<text x="661.32" y="859.62" font-size="7" text-anchor="middle" font-weight="bold">6</text>
<line x1="687.66" y1="847" x2="687.66" y2="850.5" stroke="#000" stroke-width="1.35"/>
<text x="687.66" y="859.62" font-size="7" text-anchor="middle" font-weight="bold">8</text>
<line x1="714" y1="847" x2="714" y2="850.5" stroke="#000" stroke-width="1.35"/>
<text x="714" y="859.62" font-size="7" text-anchor="middle" font-weight="bold">10</text>
<line x1="582.3" y1="774.09" x2="714" y2="803.85" stroke="#3f9fe6" stroke-width="1.7"/>
<line x1="582.3" y1="775" x2="714" y2="820.32" stroke="#8f8f8f" stroke-width="1.7"/>
<line x1="582.3" y1="774.72" x2="582.3" y2="780.28" stroke="#000" stroke-width="1.1"/>
<line x1="580" y1="774.72" x2="584.6" y2="774.72" stroke="#000" stroke-width="1.1"/>
<line x1="580" y1="780.28" x2="584.6" y2="780.28" stroke="#000" stroke-width="1.1"/>
<line x1="634.98" y1="767.98" x2="634.98" y2="777.99" stroke="#000" stroke-width="1.1"/>
<line x1="632.68" y1="767.98" x2="637.28" y2="767.98" stroke="#000" stroke-width="1.1"/>
<line x1="632.68" y1="777.99" x2="637.28" y2="777.99" stroke="#000" stroke-width="1.1"/>
<line x1="687.66" y1="797.38" x2="687.66" y2="806.41" stroke="#000" stroke-width="1.1"/>
<line x1="685.36" y1="797.38" x2="689.96" y2="797.38" stroke="#000" stroke-width="1.1"/>
<line x1="685.36" y1="806.41" x2="689.96" y2="806.41" stroke="#000" stroke-width="1.1"/>
<line x1="714" y1="800.92" x2="714" y2="806.9" stroke="#000" stroke-width="1.1"/>
<line x1="711.7" y1="800.92" x2="716.3" y2="800.92" stroke="#000" stroke-width="1.1"/>
<line x1="711.7" y1="806.9" x2="716.3" y2="806.9" stroke="#000" stroke-width="1.1"/>
<circle cx="582.3" cy="777.5" r="2.4" fill="#fff" stroke="#000" stroke-width="1.05"/>
<circle cx="608.64" cy="784.45" r="2.4" fill="#fff" stroke="#000" stroke-width="1.05"/>
<circle cx="608.64" cy="783.75" r="2.4" fill="#fff" stroke="#000" stroke-width="1.05"/>
<circle cx="634.98" cy="772.98" r="2.4" fill="#fff" stroke="#000" stroke-width="1.05"/>
<circle cx="634.98" cy="796.26" r="2.4" fill="#fff" stroke="#000" stroke-width="1.05"/>
<circle cx="661.32" cy="787.92" r="2.4" fill="#fff" stroke="#000" stroke-width="1.05"/>
<circle cx="661.32" cy="792.1" r="2.4" fill="#fff" stroke="#000" stroke-width="1.05"/>
<circle cx="687.66" cy="801.89" r="2.4" fill="#fff" stroke="#000" stroke-width="1.05"/>
<circle cx="687.66" cy="815.73" r="2.4" fill="#fff" stroke="#000" stroke-width="1.05"/>
<circle cx="714" cy="803.91" r="2.4" fill="#fff" stroke="#000" stroke-width="1.05"/>
<circle cx="714" cy="824.07" r="2.4" fill="#fff" stroke="#000" stroke-width="1.05"/>
<line x1="589.1" y1="745" x2="599.1" y2="745" stroke="#666" stroke-width="1.1"/>
<circle cx="594.1" cy="745" r="2.4" fill="#fff" stroke="#000" stroke-width="1.05"/>
<line x1="589.1" y1="757.1" x2="599.1" y2="757.1" stroke="#3f9fe6" stroke-width="1.1"/>
<circle cx="594.1" cy="757.1" r="2.4" fill="#fff" stroke="#000" stroke-width="1.05"/>
<text x="604.8" y="747.81" font-size="7.8" textLength="18.5" lengthAdjust="spacingAndGlyphs">si-NC</text>
<text x="661.8" y="747.81" font-size="7.8" textLength="37.5" lengthAdjust="spacingAndGlyphs">T<tspan font-size="5" dy="1.5">1/2</tspan><tspan dy="-1.5">=8.22h</tspan></text>
<text x="604.8" y="759.91" font-size="7.8" textLength="43.7" lengthAdjust="spacingAndGlyphs">si-<tspan font-style="italic">CNOT1</tspan>-1</text>
<text x="661.8" y="759.91" font-size="7.8" textLength="42.3" lengthAdjust="spacingAndGlyphs">T<tspan font-size="5" dy="1.5">1/2</tspan><tspan dy="-1.5">=12.82h</tspan></text>
<text x="642.9" y="780.81" font-size="7.8" fill="#4aa6ec" textLength="88.2" lengthAdjust="spacingAndGlyphs">y = -0.04281*x + 1.049</text>
<text x="590.7" y="830.11" font-size="7.8" fill="#a9a9a9" textLength="87.4" lengthAdjust="spacingAndGlyphs">y = -0.06521*x + 1.036</text>
<text x="724" y="819.42" font-size="9.5" text-anchor="middle" font-weight="bold">*</text>
<text x="653.5" y="870.55" font-size="8.2" text-anchor="middle" textLength="108.5" lengthAdjust="spacingAndGlyphs">Time after ActD treatment( h)</text>
<text x="560.3" y="796.84" font-size="7.9" text-anchor="middle" textLength="105.2" lengthAdjust="spacingAndGlyphs" transform="rotate(-90 560.3 794)">% of <tspan font-style="italic">STAT1</tspan> mRNA remaining</text>
<text x="561.5" y="45.07" font-size="6.3" text-anchor="middle" font-weight="bold" textLength="16" lengthAdjust="spacingAndGlyphs">TPC1</text>
<rect x="573.1" y="57.2" width="45.3" height="22.7" fill="#3a3a3a"/>
<rect x="576.4" y="58.75" width="6.2" height="1.3" rx="0.65" fill="#c8c8c8" opacity="1" filter="url(#glow)"/>
<rect x="576.4" y="66.6" width="6.2" height="1.4" rx="0.7" fill="#e0e0e0" opacity="1" filter="url(#glow)"/>
<rect x="576.4" y="74.3" width="6.2" height="1.4" rx="0.7" fill="#bdbdbd" opacity="1" filter="url(#glow)"/>
<rect x="586.5" y="66.7" width="6.8" height="2.4" rx="1.2" fill="#f4f4f4" opacity="1" filter="url(#glow)"/>
<rect x="608.6" y="66.7" width="6.1" height="2.4" rx="1.2" fill="#f4f4f4" opacity="1" filter="url(#glow)"/>
<rect x="586.5" y="68.9" width="6.8" height="1.2" rx="0.6" fill="#777" opacity="1" filter="url(#glow)"/>
<rect x="608.6" y="68.9" width="6.1" height="1.2" rx="0.6" fill="#777" opacity="1" filter="url(#glow)"/>
<text x="562.3" y="61.27" font-size="5.2" text-anchor="middle" font-weight="bold" fill="#222" font-family="Liberation Serif" textLength="13.6" lengthAdjust="spacingAndGlyphs">500bp</text>
<text x="562.3" y="69.17" font-size="5.2" text-anchor="middle" font-weight="bold" fill="#222" font-family="Liberation Serif" textLength="13.6" lengthAdjust="spacingAndGlyphs">200bp</text>
<text x="562.3" y="77.17" font-size="5.2" text-anchor="middle" font-weight="bold" fill="#222" font-family="Liberation Serif" textLength="13.6" lengthAdjust="spacingAndGlyphs">100bp</text>
<text x="620.3" y="71.54" font-size="5.8" font-weight="bold" fill="#222" font-family="Liberation Serif" textLength="15.8" lengthAdjust="spacingAndGlyphs">STAT1</text>
<text x="576.6" y="53.2" font-size="5.4" font-weight="bold" font-family="Liberation Serif" fill="#222" transform="rotate(-45 576.6 53.2)" textLength="17.5" lengthAdjust="spacingAndGlyphs">marker</text>
<text x="588.6" y="53.2" font-size="5.4" font-weight="bold" font-family="Liberation Serif" fill="#222" transform="rotate(-45 588.6 53.2)" textLength="14" lengthAdjust="spacingAndGlyphs">Input</text>
<text x="600.4" y="53.2" font-size="5.4" font-weight="bold" font-family="Liberation Serif" fill="#222" transform="rotate(-45 600.4 53.2)" textLength="7.5" lengthAdjust="spacingAndGlyphs">IgG</text>
<text x="611.4" y="53.2" font-size="5.4" font-weight="bold" font-family="Liberation Serif" fill="#222" transform="rotate(-45 611.4 53.2)" textLength="19.5" lengthAdjust="spacingAndGlyphs">IGF2BP2</text>
<text x="561.5" y="101.07" font-size="6.3" text-anchor="middle" font-weight="bold" textLength="19.9" lengthAdjust="spacingAndGlyphs">CAL62</text>
<rect x="573.1" y="113.1" width="45.3" height="24.8" fill="#1c1c1c"/>
<rect x="576.4" y="115" width="6.2" height="1.8" rx="0.9" fill="#eeeeee" opacity="1" filter="url(#glow)"/>
<rect x="576.4" y="123.7" width="6.2" height="2" rx="1" fill="#f4f4f4" opacity="1" filter="url(#glow)"/>
<rect x="576.4" y="133.25" width="6.2" height="1.9" rx="0.95" fill="#e6e6e6" opacity="1" filter="url(#glow)"/>
<rect x="587.1" y="123.6" width="6.2" height="1.8" rx="0.9" fill="#3c3c3c" opacity="1" filter="url(#glow)"/>
<rect x="609.2" y="123.6" width="5.5" height="1.8" rx="0.9" fill="#3c3c3c" opacity="1" filter="url(#glow)"/>
<text x="562.3" y="116.77" font-size="5.2" text-anchor="middle" font-weight="bold" fill="#222" font-family="Liberation Serif" textLength="13.6" lengthAdjust="spacingAndGlyphs">500bp</text>
<text x="562.3" y="125.57" font-size="5.2" text-anchor="middle" font-weight="bold" fill="#222" font-family="Liberation Serif" textLength="13.6" lengthAdjust="spacingAndGlyphs">200bp</text>
<text x="562.3" y="135.37" font-size="5.2" text-anchor="middle" font-weight="bold" fill="#222" font-family="Liberation Serif" textLength="13.6" lengthAdjust="spacingAndGlyphs">100bp</text>
<text x="620.3" y="128.49" font-size="5.8" font-weight="bold" fill="#222" font-family="Liberation Serif" textLength="15.8" lengthAdjust="spacingAndGlyphs">STAT1</text>
<text x="576.6" y="108.8" font-size="5.4" font-weight="bold" font-family="Liberation Serif" fill="#222" transform="rotate(-45 576.6 108.8)" textLength="17.5" lengthAdjust="spacingAndGlyphs">marker</text>
<text x="588.6" y="108.8" font-size="5.4" font-weight="bold" font-family="Liberation Serif" fill="#222" transform="rotate(-45 588.6 108.8)" textLength="14" lengthAdjust="spacingAndGlyphs">Input</text>
<text x="600.4" y="108.8" font-size="5.4" font-weight="bold" font-family="Liberation Serif" fill="#222" transform="rotate(-45 600.4 108.8)" textLength="7.5" lengthAdjust="spacingAndGlyphs">IgG</text>
<text x="611.4" y="108.8" font-size="5.4" font-weight="bold" font-family="Liberation Serif" fill="#222" transform="rotate(-45 611.4 108.8)" textLength="19.5" lengthAdjust="spacingAndGlyphs">IGF2BP2</text></svg>
</body></html>
